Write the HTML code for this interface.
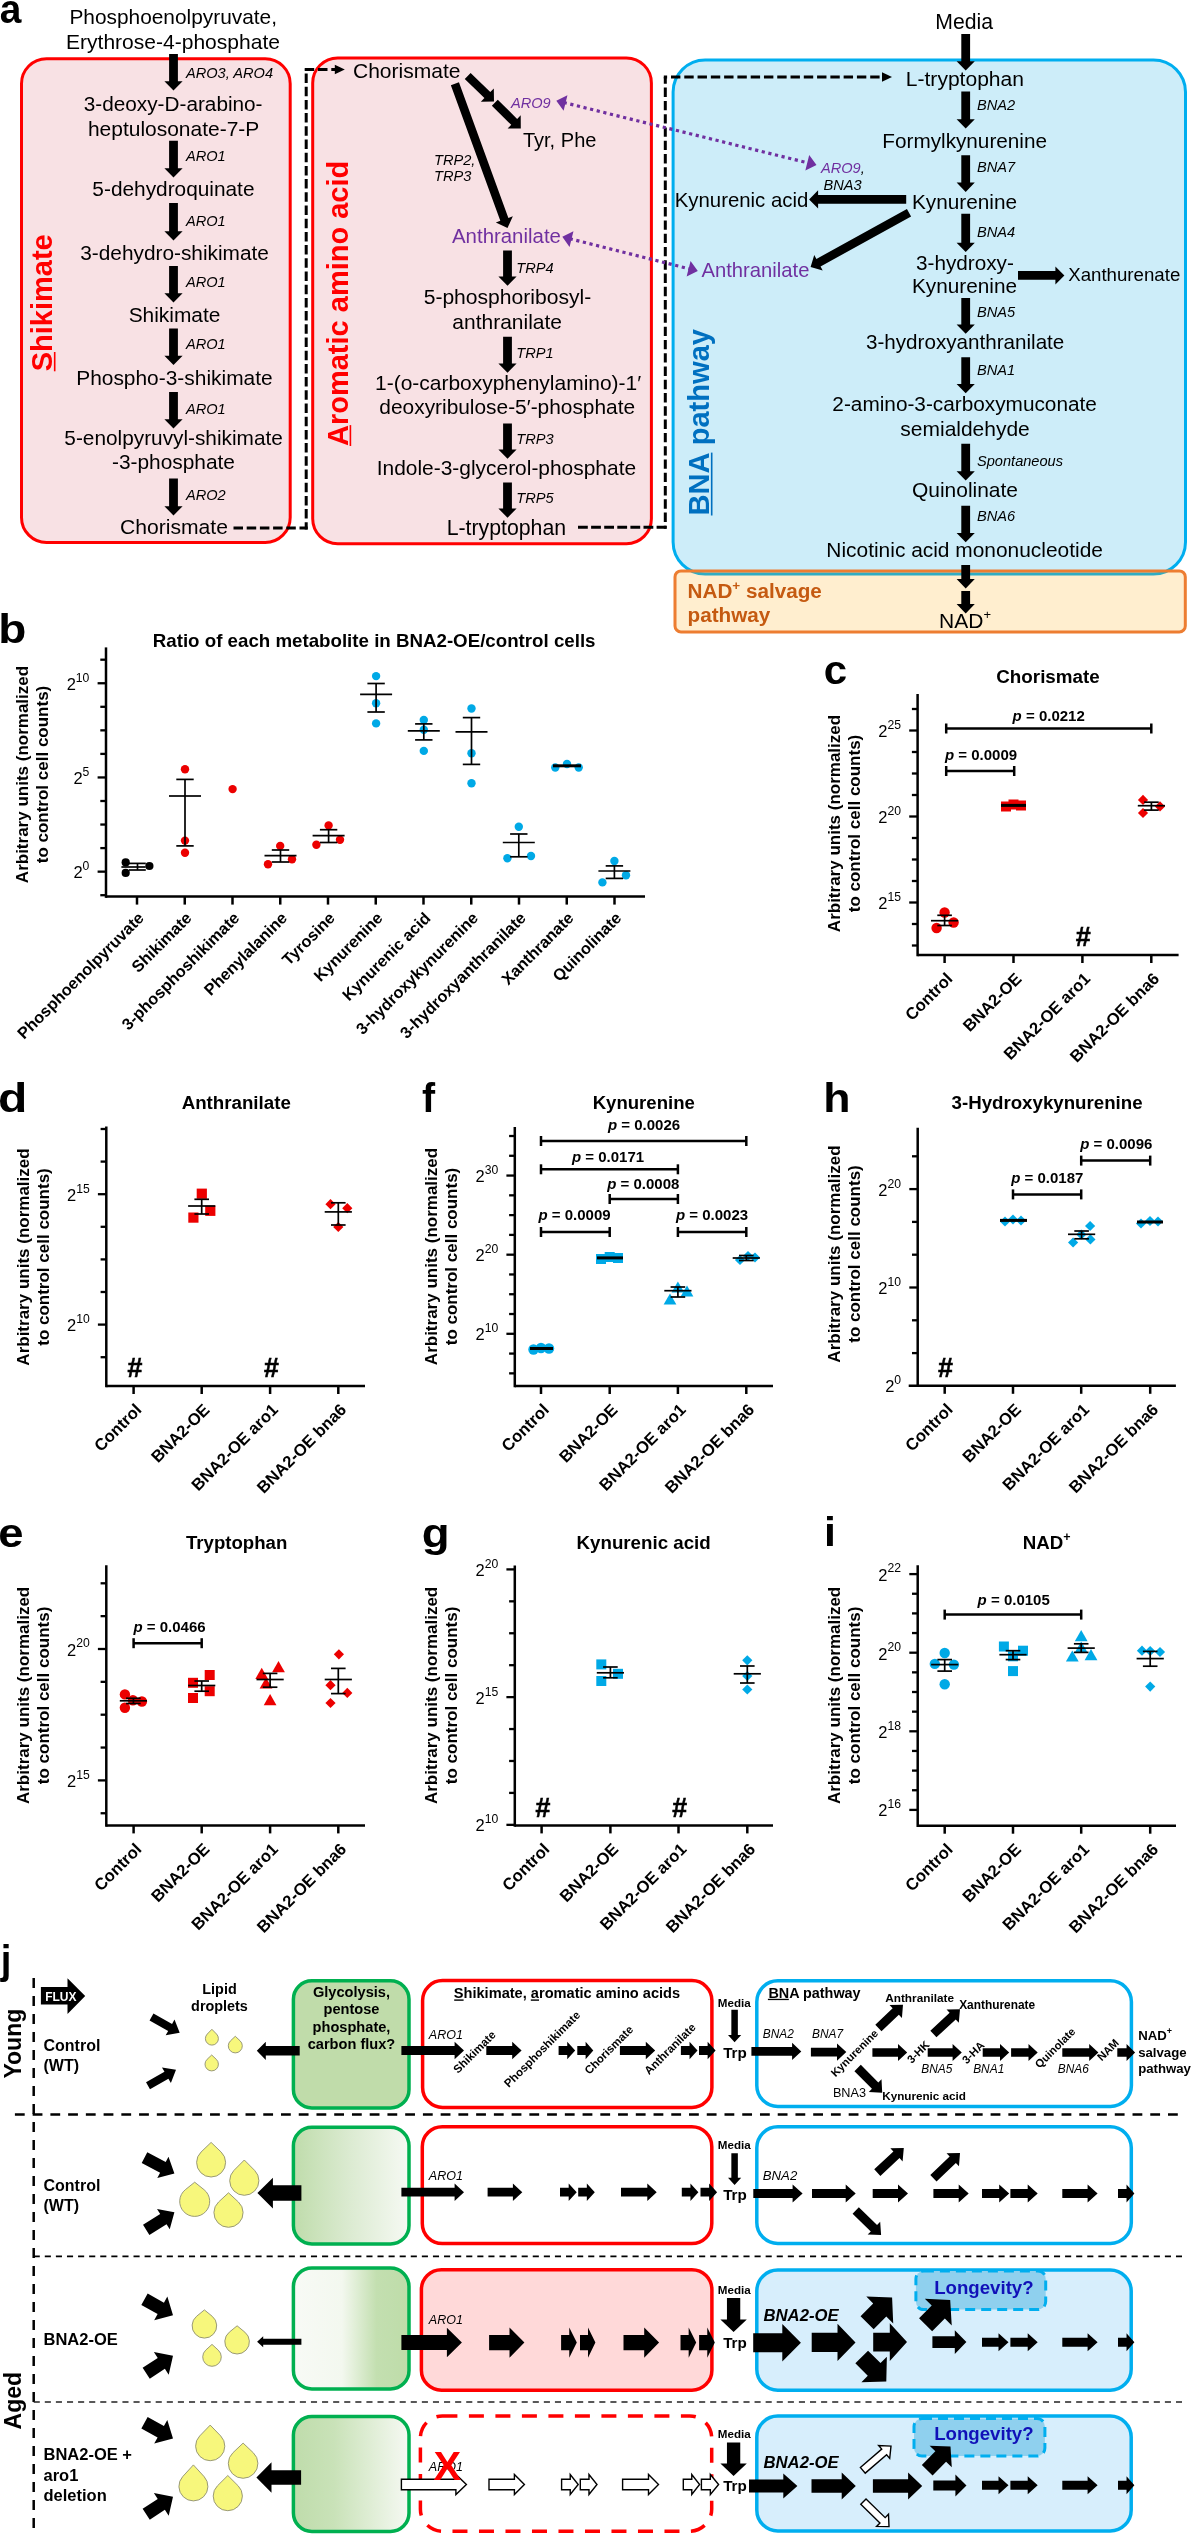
<!DOCTYPE html>
<html><head><meta charset="utf-8"><style>
html,body{margin:0;padding:0;background:#fff;}
svg{display:block;font-family:"Liberation Sans",sans-serif;will-change:transform;}
</style></head><body>
<svg width="1192" height="2534" viewBox="0 0 1192 2534">
<text transform="translate(-0.17,23.30) scale(0.972,1)" font-size="40" font-weight="bold">a</text>
<rect x="21.50" y="58.70" width="268.70" height="483.80" rx="25" ry="25" fill="#f8e1e4" stroke="#ff0000" stroke-width="3" />
<rect x="312.70" y="57.90" width="338.70" height="485.80" rx="25" ry="25" fill="#f8e1e4" stroke="#ff0000" stroke-width="3" />
<rect x="673.10" y="60.00" width="512.40" height="514.00" rx="32" ry="32" fill="#cdedf9" stroke="#00aeef" stroke-width="3" />
<rect x="675.00" y="570.90" width="510.30" height="61.00" rx="6" ry="6" fill="rgba(255,165,0,0.19)" stroke="#ed7d31" stroke-width="3" />
<text x="69.43" y="24.30" font-size="20.87" >Phosphoenolpyruvate,</text>
<text x="66.02" y="49.00" font-size="21.04" >Erythrose-4-phosphate</text>
<text x="83.77" y="111.00" font-size="20.76" >3-deoxy-D-arabino-</text>
<text x="87.93" y="135.60" font-size="20.98" >heptulosonate-7-P</text>
<text x="92.37" y="195.50" font-size="20.84" >5-dehydroquinate</text>
<text x="80.27" y="260.00" font-size="20.82" >3-dehydro-shikimate</text>
<text x="128.65" y="322.30" font-size="20.91" >Shikimate</text>
<text x="76.23" y="385.40" font-size="20.91" >Phospho-3-shikimate</text>
<text x="64.37" y="444.50" font-size="20.8" >5-enolpyruvyl-shikimate</text>
<text x="111.96" y="469.00" font-size="20.88" >-3-phosphate</text>
<text x="119.94" y="534.40" font-size="21.12" >Chorismate</text>
<polygon points="177.90,54.00 177.90,81.20 182.60,81.20 173.50,90.50 164.40,81.20 169.10,81.20 169.10,54.00" fill="#000" stroke="none" stroke-width="0"  stroke-linejoin="miter"/>
<polygon points="177.90,140.70 177.90,168.30 182.60,168.30 173.50,177.60 164.40,168.30 169.10,168.30 169.10,140.70" fill="#000" stroke="none" stroke-width="0"  stroke-linejoin="miter"/>
<polygon points="177.90,203.00 177.90,231.20 182.60,231.20 173.50,240.50 164.40,231.20 169.10,231.20 169.10,203.00" fill="#000" stroke="none" stroke-width="0"  stroke-linejoin="miter"/>
<polygon points="177.90,266.00 177.90,293.20 182.60,293.20 173.50,302.50 164.40,293.20 169.10,293.20 169.10,266.00" fill="#000" stroke="none" stroke-width="0"  stroke-linejoin="miter"/>
<polygon points="177.90,328.50 177.90,355.70 182.60,355.70 173.50,365.00 164.40,355.70 169.10,355.70 169.10,328.50" fill="#000" stroke="none" stroke-width="0"  stroke-linejoin="miter"/>
<polygon points="177.90,392.00 177.90,419.20 182.60,419.20 173.50,428.50 164.40,419.20 169.10,419.20 169.10,392.00" fill="#000" stroke="none" stroke-width="0"  stroke-linejoin="miter"/>
<polygon points="177.90,478.60 177.90,506.20 182.60,506.20 173.50,515.50 164.40,506.20 169.10,506.20 169.10,478.60" fill="#000" stroke="none" stroke-width="0"  stroke-linejoin="miter"/>
<text x="186.00" y="78.00" font-size="14.6" font-style="italic" >ARO3, ARO4</text>
<text x="186.00" y="160.50" font-size="14.6" font-style="italic" >ARO1</text>
<text x="186.00" y="225.50" font-size="14.6" font-style="italic" >ARO1</text>
<text x="186.00" y="286.60" font-size="14.6" font-style="italic" >ARO1</text>
<text x="186.00" y="349.00" font-size="14.6" font-style="italic" >ARO1</text>
<text x="186.00" y="414.00" font-size="14.6" font-style="italic" >ARO1</text>
<text x="186.00" y="500.00" font-size="14.6" font-style="italic" >ARO2</text>
<text transform="translate(52.10,371.30) rotate(-90)" font-size="29" font-weight="bold" fill="#ff0000" >Shikimate</text>
<rect x="53.90" y="352.00" width="1.60" height="19.30" rx="0" ry="0" fill="#ff0000" stroke="none" stroke-width="0" />
<text transform="translate(348.00,446.00) rotate(-90)" font-size="29" font-weight="bold" fill="#ff0000" >Aromatic amino acid</text>
<rect x="349.60" y="425.10" width="1.60" height="20.90" rx="0" ry="0" fill="#ff0000" stroke="none" stroke-width="0" />
<text transform="translate(708.60,515.40) rotate(-90)" font-size="29.1" font-weight="bold" fill="#0070c0" >BNA pathway</text>
<rect x="710.90" y="452.60" width="1.60" height="62.90" rx="0" ry="0" fill="#0070c0" stroke="none" stroke-width="0" />
<text x="352.95" y="77.50" font-size="21.04" >Chorismate</text>
<text x="423.66" y="303.90" font-size="21.09" >5-phosphoribosyl-</text>
<text x="452.36" y="328.50" font-size="20.97" >anthranilate</text>
<text x="375.02" y="390.00" font-size="20.97" >1-(o-carboxyphenylamino)-1′</text>
<text x="379.36" y="413.90" font-size="20.88" >deoxyribulose-5′-phosphate</text>
<text x="376.72" y="474.50" font-size="20.93" >Indole-3-glycerol-phosphate</text>
<text x="446.70" y="535.00" font-size="21.28" >L-tryptophan</text>
<polygon points="511.90,250.40 511.90,276.50 516.60,276.50 507.50,285.80 498.40,276.50 503.10,276.50 503.10,250.40" fill="#000" stroke="none" stroke-width="0"  stroke-linejoin="miter"/>
<polygon points="511.90,336.70 511.90,363.40 516.60,363.40 507.50,372.70 498.40,363.40 503.10,363.40 503.10,336.70" fill="#000" stroke="none" stroke-width="0"  stroke-linejoin="miter"/>
<polygon points="511.90,423.50 511.90,449.50 516.60,449.50 507.50,458.80 498.40,449.50 503.10,449.50 503.10,423.50" fill="#000" stroke="none" stroke-width="0"  stroke-linejoin="miter"/>
<polygon points="511.90,482.40 511.90,508.50 516.60,508.50 507.50,517.80 498.40,508.50 503.10,508.50 503.10,482.40" fill="#000" stroke="none" stroke-width="0"  stroke-linejoin="miter"/>
<text x="516.30" y="272.70" font-size="14.6" font-style="italic" >TRP4</text>
<text x="516.30" y="358.10" font-size="14.6" font-style="italic" >TRP1</text>
<text x="516.30" y="444.20" font-size="14.6" font-style="italic" >TRP3</text>
<text x="516.30" y="503.10" font-size="14.6" font-style="italic" >TRP5</text>
<text x="452.00" y="242.50" font-size="20.42" fill="#7030a0" >Anthranilate</text>
<text x="522.90" y="147.00" font-size="20.06" >Tyr, Phe</text>
<text x="511.00" y="108.40" font-size="14.6" font-style="italic" fill="#7030a0" >ARO9</text>
<text x="434.00" y="164.50" font-size="14.6" font-style="italic" >TRP2,</text>
<text x="434.00" y="181.40" font-size="14.6" font-style="italic" >TRP3</text>
<polygon points="458.94,82.33 508.39,217.88 512.85,216.26 507.50,228.00 495.85,222.46 500.31,220.83 450.86,85.27" fill="#000" stroke="none" stroke-width="0"  stroke-linejoin="miter"/>
<polygon points="470.63,72.99 490.27,92.10 493.82,88.45 494.00,101.60 480.85,101.78 484.41,98.12 464.77,79.01" fill="#000" stroke="none" stroke-width="0"  stroke-linejoin="miter"/>
<polygon points="497.75,99.76 517.13,118.88 520.71,115.25 520.80,128.40 507.65,128.49 511.23,124.86 491.85,105.74" fill="#000" stroke="none" stroke-width="0"  stroke-linejoin="miter"/>
<text x="935.30" y="29.30" font-size="21.21" >Media</text>
<text x="905.82" y="86.00" font-size="21.06" >L-tryptophan</text>
<text x="882.34" y="148.00" font-size="20.72" >Formylkynurenine</text>
<text x="911.94" y="208.50" font-size="20.77" >Kynurenine</text>
<text x="915.97" y="269.60" font-size="20.73" >3-hydroxy-</text>
<text x="911.94" y="293.00" font-size="20.77" >Kynurenine</text>
<text x="865.97" y="348.50" font-size="20.63" >3-hydroxyanthranilate</text>
<text x="832.36" y="411.00" font-size="20.79" >2-amino-3-carboxymuconate</text>
<text x="900.37" y="435.70" font-size="20.98" >semialdehyde</text>
<text x="911.95" y="497.30" font-size="20.97" >Quinolinate</text>
<text x="826.33" y="557.00" font-size="20.92" >Nicotinic acid mononucleotide</text>
<text x="965.00" y="627.70" font-size="21" text-anchor="middle" >NAD<tspan font-size="13" dy="-9">+</tspan></text>
<polygon points="970.10,34.00 970.10,61.20 974.80,61.20 965.70,70.50 956.60,61.20 961.30,61.20 961.30,34.00" fill="#000" stroke="none" stroke-width="0"  stroke-linejoin="miter"/>
<polygon points="970.10,91.60 970.10,119.20 974.80,119.20 965.70,128.50 956.60,119.20 961.30,119.20 961.30,91.60" fill="#000" stroke="none" stroke-width="0"  stroke-linejoin="miter"/>
<polygon points="970.10,155.20 970.10,182.60 974.80,182.60 965.70,191.90 956.60,182.60 961.30,182.60 961.30,155.20" fill="#000" stroke="none" stroke-width="0"  stroke-linejoin="miter"/>
<polygon points="970.10,213.70 970.10,242.70 974.80,242.70 965.70,252.00 956.60,242.70 961.30,242.70 961.30,213.70" fill="#000" stroke="none" stroke-width="0"  stroke-linejoin="miter"/>
<polygon points="970.10,298.00 970.10,324.50 974.80,324.50 965.70,333.80 956.60,324.50 961.30,324.50 961.30,298.00" fill="#000" stroke="none" stroke-width="0"  stroke-linejoin="miter"/>
<polygon points="970.10,357.30 970.10,384.00 974.80,384.00 965.70,393.30 956.60,384.00 961.30,384.00 961.30,357.30" fill="#000" stroke="none" stroke-width="0"  stroke-linejoin="miter"/>
<polygon points="970.10,443.70 970.10,471.20 974.80,471.20 965.70,480.50 956.60,471.20 961.30,471.20 961.30,443.70" fill="#000" stroke="none" stroke-width="0"  stroke-linejoin="miter"/>
<polygon points="970.10,505.80 970.10,533.00 974.80,533.00 965.70,542.30 956.60,533.00 961.30,533.00 961.30,505.80" fill="#000" stroke="none" stroke-width="0"  stroke-linejoin="miter"/>
<polygon points="970.10,565.00 970.10,579.10 974.80,579.10 965.70,588.40 956.60,579.10 961.30,579.10 961.30,565.00" fill="#000" stroke="none" stroke-width="0"  stroke-linejoin="miter"/>
<polygon points="970.10,591.00 970.10,604.10 974.80,604.10 965.70,613.40 956.60,604.10 961.30,604.10 961.30,591.00" fill="#000" stroke="none" stroke-width="0"  stroke-linejoin="miter"/>
<text x="977.00" y="110.00" font-size="14.6" font-style="italic" >BNA2</text>
<text x="977.00" y="172.00" font-size="14.6" font-style="italic" >BNA7</text>
<text x="977.00" y="237.00" font-size="14.6" font-style="italic" >BNA4</text>
<text x="977.00" y="317.30" font-size="14.6" font-style="italic" >BNA5</text>
<text x="977.00" y="375.00" font-size="14.6" font-style="italic" >BNA1</text>
<text x="977.00" y="466.00" font-size="14.6" font-style="italic" >Spontaneous</text>
<text x="977.00" y="521.40" font-size="14.6" font-style="italic" >BNA6</text>
<text x="674.77" y="206.80" font-size="20.37" >Kynurenic acid</text>
<polygon points="906.20,203.70 818.10,203.70 818.10,208.45 809.10,199.40 818.10,190.35 818.10,195.10 906.20,195.10" fill="#000" stroke="none" stroke-width="0"  stroke-linejoin="miter"/>
<text x="821.00" y="173.30" font-size="14.6" font-style="italic" ><tspan fill="#7030a0">ARO9</tspan>,</text>
<text x="823.60" y="190.40" font-size="14.6" font-style="italic" >BNA3</text>
<polygon points="911.08,216.46 820.56,266.51 822.71,270.40 810.60,267.10 814.24,255.09 816.40,258.98 906.92,208.94" fill="#000" stroke="none" stroke-width="0"  stroke-linejoin="miter"/>
<text x="701.50" y="276.70" font-size="20.23" fill="#7030a0" >Anthranilate</text>
<polygon points="1018.00,271.10 1055.40,271.10 1055.40,266.40 1064.40,275.40 1055.40,284.40 1055.40,279.70 1018.00,279.70" fill="#000" stroke="none" stroke-width="0"  stroke-linejoin="miter"/>
<text x="1068.24" y="281.40" font-size="18.67" >Xanthurenate</text>
<text x="687.50" y="597.60" font-size="20.7" font-weight="bold" fill="#c55a11" >NAD<tspan font-size="13.5" dy="-8">+</tspan><tspan dy="8"> salvage</tspan></text>
<text x="687.50" y="622.00" font-size="20.7" font-weight="bold" fill="#c55a11" >pathway</text>
<path d="M233.50 528.00L243.00 528.00M246.70 528.00L256.20 528.00M259.90 528.00L269.40 528.00M273.10 528.00L282.60 528.00M286.30 528.00L295.80 528.00M299.50 528.00L307.70 528.00" stroke="#000" stroke-width="3" fill="none"/>
<path d="M306.20 69.50L306.20 69.80M306.20 73.50L306.20 83.00M306.20 86.70L306.20 96.20M306.20 99.90L306.20 109.40M306.20 113.10L306.20 122.60M306.20 126.30L306.20 135.80M306.20 139.50L306.20 149.00M306.20 152.70L306.20 162.20M306.20 165.90L306.20 175.40M306.20 179.10L306.20 188.60M306.20 192.30L306.20 201.80M306.20 205.50L306.20 215.00M306.20 218.70L306.20 228.20M306.20 231.90L306.20 241.40M306.20 245.10L306.20 254.60M306.20 258.30L306.20 267.80M306.20 271.50L306.20 281.00M306.20 284.70L306.20 294.20M306.20 297.90L306.20 307.40M306.20 311.10L306.20 320.60M306.20 324.30L306.20 333.80M306.20 337.50L306.20 347.00M306.20 350.70L306.20 360.20M306.20 363.90L306.20 373.40M306.20 377.10L306.20 386.60M306.20 390.30L306.20 399.80M306.20 403.50L306.20 413.00M306.20 416.70L306.20 426.20M306.20 429.90L306.20 439.40M306.20 443.10L306.20 452.60M306.20 456.30L306.20 465.80M306.20 469.50L306.20 479.00M306.20 482.70L306.20 492.20M306.20 495.90L306.20 505.40M306.20 509.10L306.20 518.60M306.20 522.30L306.20 529.50" stroke="#000" stroke-width="3" fill="none"/>
<path d="M304.70 69.50L314.20 69.50M318.00 69.50L327.50 69.50M331.30 69.50L336.00 69.50" stroke="#000" stroke-width="3" fill="none"/>
<polygon points="334.80,64.70 344.80,69.50 334.80,74.30" fill="#000" stroke="none" stroke-width="0" />
<path d="M578.00 527.30L587.80 527.30M591.10 527.30L600.90 527.30M604.20 527.30L614.00 527.30M617.30 527.30L627.10 527.30M630.40 527.30L640.20 527.30M643.50 527.30L653.30 527.30M656.60 527.30L666.40 527.30" stroke="#000" stroke-width="3" fill="none"/>
<path d="M665.30 77.00L665.30 83.72M665.30 87.60L665.30 97.00M665.30 100.88L665.30 110.28M665.30 114.16L665.30 123.56M665.30 127.44L665.30 136.84M665.30 140.72L665.30 150.12M665.30 154.00L665.30 163.40M665.30 167.28L665.30 176.68M665.30 180.56L665.30 189.96M665.30 193.84L665.30 203.24M665.30 207.12L665.30 216.52M665.30 220.40L665.30 229.80M665.30 233.68L665.30 243.08M665.30 246.96L665.30 256.36M665.30 260.24L665.30 269.64M665.30 273.52L665.30 282.92M665.30 286.80L665.30 296.20M665.30 300.08L665.30 309.48M665.30 313.36L665.30 322.76M665.30 326.64L665.30 336.04M665.30 339.92L665.30 349.32M665.30 353.20L665.30 362.60M665.30 366.48L665.30 375.88M665.30 379.76L665.30 389.16M665.30 393.04L665.30 402.44M665.30 406.32L665.30 415.72M665.30 419.60L665.30 429.00M665.30 432.88L665.30 442.28M665.30 446.16L665.30 455.56M665.30 459.44L665.30 468.84M665.30 472.72L665.30 482.12M665.30 486.00L665.30 495.40M665.30 499.28L665.30 508.68M665.30 512.56L665.30 521.96M665.30 525.84L665.30 528.80" stroke="#000" stroke-width="3" fill="none"/>
<path d="M663.80 77.00L667.12 77.00M671.00 77.00L680.40 77.00M684.28 77.00L693.68 77.00M697.56 77.00L706.96 77.00M710.84 77.00L720.24 77.00M724.12 77.00L733.52 77.00M737.40 77.00L746.80 77.00M750.68 77.00L760.08 77.00M763.96 77.00L773.36 77.00M777.24 77.00L786.64 77.00M790.52 77.00L799.92 77.00M803.80 77.00L813.20 77.00M817.08 77.00L826.48 77.00M830.36 77.00L839.76 77.00M843.64 77.00L853.04 77.00M856.92 77.00L866.32 77.00M870.20 77.00L879.60 77.00M883.48 77.00L884.00 77.00" stroke="#000" stroke-width="3" fill="none"/>
<polygon points="882.00,72.20 892.00,77.00 882.00,81.80" fill="#000" stroke="none" stroke-width="0" />
<line x1="563.68" y1="102.52" x2="809.12" y2="163.18" stroke="#7030a0" stroke-width="3.2" stroke-dasharray="3.2 3.6"/>
<polygon points="565.51,103.03 565.51,103.03 563.60,110.75 556.30,100.70 567.44,95.21 565.53,102.93 565.53,102.93" fill="#7030a0" stroke="none" stroke-width="0"  stroke-linejoin="miter"/>
<polygon points="807.29,162.67 807.29,162.67 809.20,154.95 816.50,165.00 805.36,170.49 807.27,162.77 807.27,162.77" fill="#7030a0" stroke="none" stroke-width="0"  stroke-linejoin="miter"/>
<line x1="569.67" y1="238.66" x2="690.43" y2="269.14" stroke="#7030a0" stroke-width="3.2" stroke-dasharray="3.2 3.6"/>
<polygon points="571.50,239.17 571.50,239.17 569.55,246.88 562.30,236.80 573.47,231.37 571.52,239.08 571.52,239.08" fill="#7030a0" stroke="none" stroke-width="0"  stroke-linejoin="miter"/>
<polygon points="688.60,268.63 688.60,268.63 690.55,260.92 697.80,271.00 686.63,276.43 688.58,268.72 688.58,268.72" fill="#7030a0" stroke="none" stroke-width="0"  stroke-linejoin="miter"/>
<text transform="translate(-1.82,642.70) scale(1.150,1)" font-size="40" font-weight="bold">b</text>
<text x="152.79" y="646.60" font-size="18.72" font-weight="bold" >Ratio of each metabolite in BNA2-OE/control cells</text>
<line x1="106.00" y1="647.40" x2="106.00" y2="897.85" stroke="#000" stroke-width="2.5" />
<line x1="106.00" y1="896.60" x2="645.00" y2="896.60" stroke="#000" stroke-width="2.5" />
<line x1="100.30" y1="659.70" x2="106.00" y2="659.70" stroke="#000" stroke-width="2.3" />
<line x1="97.60" y1="683.25" x2="106.00" y2="683.25" stroke="#000" stroke-width="2.3" />
<line x1="100.30" y1="706.80" x2="106.00" y2="706.80" stroke="#000" stroke-width="2.3" />
<line x1="100.30" y1="730.35" x2="106.00" y2="730.35" stroke="#000" stroke-width="2.3" />
<line x1="100.30" y1="753.90" x2="106.00" y2="753.90" stroke="#000" stroke-width="2.3" />
<line x1="97.60" y1="777.45" x2="106.00" y2="777.45" stroke="#000" stroke-width="2.3" />
<line x1="100.30" y1="801.00" x2="106.00" y2="801.00" stroke="#000" stroke-width="2.3" />
<line x1="100.30" y1="824.55" x2="106.00" y2="824.55" stroke="#000" stroke-width="2.3" />
<line x1="100.30" y1="848.10" x2="106.00" y2="848.10" stroke="#000" stroke-width="2.3" />
<line x1="97.60" y1="871.65" x2="106.00" y2="871.65" stroke="#000" stroke-width="2.3" />
<line x1="100.30" y1="895.20" x2="106.00" y2="895.20" stroke="#000" stroke-width="2.3" />
<line x1="137.00" y1="896.60" x2="137.00" y2="904.60" stroke="#000" stroke-width="2.5" />
<line x1="184.75" y1="896.60" x2="184.75" y2="904.60" stroke="#000" stroke-width="2.5" />
<line x1="232.50" y1="896.60" x2="232.50" y2="904.60" stroke="#000" stroke-width="2.5" />
<line x1="280.25" y1="896.60" x2="280.25" y2="904.60" stroke="#000" stroke-width="2.5" />
<line x1="328.00" y1="896.60" x2="328.00" y2="904.60" stroke="#000" stroke-width="2.5" />
<line x1="375.75" y1="896.60" x2="375.75" y2="904.60" stroke="#000" stroke-width="2.5" />
<line x1="423.50" y1="896.60" x2="423.50" y2="904.60" stroke="#000" stroke-width="2.5" />
<line x1="471.25" y1="896.60" x2="471.25" y2="904.60" stroke="#000" stroke-width="2.5" />
<line x1="519.00" y1="896.60" x2="519.00" y2="904.60" stroke="#000" stroke-width="2.5" />
<line x1="566.75" y1="896.60" x2="566.75" y2="904.60" stroke="#000" stroke-width="2.5" />
<line x1="614.50" y1="896.60" x2="614.50" y2="904.60" stroke="#000" stroke-width="2.5" />
<text x="89.40" y="689.75" font-size="16.5" text-anchor="end" >2<tspan font-size="12.2" dy="-8.2">10</tspan></text>
<text x="89.40" y="783.95" font-size="16.5" text-anchor="end" >2<tspan font-size="12.2" dy="-8.2">5</tspan></text>
<text x="89.40" y="878.15" font-size="16.5" text-anchor="end" >2<tspan font-size="12.2" dy="-8.2">0</tspan></text>
<text transform="translate(28.20,774.50) rotate(-90)" font-size="17" font-weight="bold" text-anchor="middle" >Arbitrary units (normalized</text>
<text transform="translate(48.30,774.50) rotate(-90)" font-size="17" font-weight="bold" text-anchor="middle" >to control cell counts)</text>
<text transform="translate(145.00,919.10) rotate(-45)" font-size="16.3" font-weight="bold" text-anchor="end" >Phosphoenolpyruvate</text>
<text transform="translate(192.75,919.10) rotate(-45)" font-size="16.3" font-weight="bold" text-anchor="end" >Shikimate</text>
<text transform="translate(240.50,919.10) rotate(-45)" font-size="16.3" font-weight="bold" text-anchor="end" >3-phosphoshikimate</text>
<text transform="translate(288.25,919.10) rotate(-45)" font-size="16.3" font-weight="bold" text-anchor="end" >Phenylalanine</text>
<text transform="translate(336.00,919.10) rotate(-45)" font-size="16.3" font-weight="bold" text-anchor="end" >Tyrosine</text>
<text transform="translate(383.75,919.10) rotate(-45)" font-size="16.3" font-weight="bold" text-anchor="end" >Kynurenine</text>
<text transform="translate(431.50,919.10) rotate(-45)" font-size="16.3" font-weight="bold" text-anchor="end" >Kynurenic acid</text>
<text transform="translate(479.25,919.10) rotate(-45)" font-size="16.3" font-weight="bold" text-anchor="end" >3-hydroxykynurenine</text>
<text transform="translate(527.00,919.10) rotate(-45)" font-size="16.3" font-weight="bold" text-anchor="end" >3-hydroxyanthranilate</text>
<text transform="translate(574.75,919.10) rotate(-45)" font-size="16.3" font-weight="bold" text-anchor="end" >Xanthranate</text>
<text transform="translate(622.50,919.10) rotate(-45)" font-size="16.3" font-weight="bold" text-anchor="end" >Quinolinate</text>
<circle cx="125.70" cy="862.40" r="4.1" fill="#000"/>
<circle cx="125.70" cy="872.90" r="4.1" fill="#000"/>
<circle cx="149.40" cy="866.00" r="4.1" fill="#000"/>
<line x1="121.40" y1="867.00" x2="145.60" y2="867.00" stroke="#000" stroke-width="1.7" />
<line x1="137.50" y1="863.40" x2="137.50" y2="870.00" stroke="#000" stroke-width="1.7" />
<line x1="129.00" y1="863.40" x2="145.80" y2="863.40" stroke="#000" stroke-width="1.7" />
<line x1="129.00" y1="870.00" x2="145.80" y2="870.00" stroke="#000" stroke-width="1.7" />
<circle cx="185.00" cy="769.20" r="4.2" fill="#ec0000"/>
<circle cx="185.00" cy="840.60" r="4.2" fill="#ec0000"/>
<circle cx="185.00" cy="852.80" r="4.2" fill="#ec0000"/>
<line x1="169.00" y1="796.00" x2="201.00" y2="796.00" stroke="#000" stroke-width="1.7" />
<line x1="185.00" y1="779.40" x2="185.00" y2="845.90" stroke="#000" stroke-width="1.7" />
<line x1="176.30" y1="779.40" x2="193.70" y2="779.40" stroke="#000" stroke-width="1.7" />
<line x1="176.30" y1="845.90" x2="193.70" y2="845.90" stroke="#000" stroke-width="1.7" />
<circle cx="232.60" cy="789.10" r="4.2" fill="#ec0000"/>
<circle cx="268.00" cy="864.20" r="4.2" fill="#ec0000"/>
<circle cx="280.20" cy="845.90" r="4.2" fill="#ec0000"/>
<circle cx="292.00" cy="859.20" r="4.2" fill="#ec0000"/>
<line x1="264.50" y1="855.60" x2="296.50" y2="855.60" stroke="#000" stroke-width="1.7" />
<line x1="280.50" y1="850.00" x2="280.50" y2="862.00" stroke="#000" stroke-width="1.7" />
<line x1="271.80" y1="850.00" x2="289.20" y2="850.00" stroke="#000" stroke-width="1.7" />
<line x1="271.80" y1="862.00" x2="289.20" y2="862.00" stroke="#000" stroke-width="1.7" />
<circle cx="316.40" cy="844.80" r="4.2" fill="#ec0000"/>
<circle cx="328.60" cy="825.40" r="4.2" fill="#ec0000"/>
<circle cx="340.00" cy="839.70" r="4.2" fill="#ec0000"/>
<line x1="312.60" y1="835.70" x2="344.60" y2="835.70" stroke="#000" stroke-width="1.7" />
<line x1="328.60" y1="829.70" x2="328.60" y2="842.50" stroke="#000" stroke-width="1.7" />
<line x1="319.90" y1="829.70" x2="337.30" y2="829.70" stroke="#000" stroke-width="1.7" />
<line x1="319.90" y1="842.50" x2="337.30" y2="842.50" stroke="#000" stroke-width="1.7" />
<circle cx="376.10" cy="676.10" r="4.2" fill="#00a9e6"/>
<circle cx="376.10" cy="703.30" r="4.2" fill="#00a9e6"/>
<circle cx="376.10" cy="723.40" r="4.2" fill="#00a9e6"/>
<line x1="360.10" y1="694.40" x2="392.10" y2="694.40" stroke="#000" stroke-width="1.7" />
<line x1="376.10" y1="683.50" x2="376.10" y2="712.00" stroke="#000" stroke-width="1.7" />
<line x1="367.40" y1="683.50" x2="384.80" y2="683.50" stroke="#000" stroke-width="1.7" />
<line x1="367.40" y1="712.00" x2="384.80" y2="712.00" stroke="#000" stroke-width="1.7" />
<circle cx="423.80" cy="720.00" r="4.2" fill="#00a9e6"/>
<circle cx="423.80" cy="729.80" r="4.2" fill="#00a9e6"/>
<circle cx="423.80" cy="750.90" r="4.2" fill="#00a9e6"/>
<line x1="407.80" y1="730.80" x2="439.80" y2="730.80" stroke="#000" stroke-width="1.7" />
<line x1="423.80" y1="723.90" x2="423.80" y2="739.90" stroke="#000" stroke-width="1.7" />
<line x1="415.10" y1="723.90" x2="432.50" y2="723.90" stroke="#000" stroke-width="1.7" />
<line x1="415.10" y1="739.90" x2="432.50" y2="739.90" stroke="#000" stroke-width="1.7" />
<circle cx="471.50" cy="708.50" r="4.2" fill="#00a9e6"/>
<circle cx="471.50" cy="753.20" r="4.2" fill="#00a9e6"/>
<circle cx="471.50" cy="783.20" r="4.2" fill="#00a9e6"/>
<line x1="455.50" y1="731.80" x2="487.50" y2="731.80" stroke="#000" stroke-width="1.7" />
<line x1="471.50" y1="717.60" x2="471.50" y2="764.40" stroke="#000" stroke-width="1.7" />
<line x1="462.80" y1="717.60" x2="480.20" y2="717.60" stroke="#000" stroke-width="1.7" />
<line x1="462.80" y1="764.40" x2="480.20" y2="764.40" stroke="#000" stroke-width="1.7" />
<circle cx="518.80" cy="826.80" r="4.2" fill="#00a9e6"/>
<circle cx="507.40" cy="858.20" r="4.2" fill="#00a9e6"/>
<circle cx="531.00" cy="856.00" r="4.2" fill="#00a9e6"/>
<line x1="502.80" y1="842.50" x2="534.80" y2="842.50" stroke="#000" stroke-width="1.7" />
<line x1="518.80" y1="834.00" x2="518.80" y2="856.80" stroke="#000" stroke-width="1.7" />
<line x1="510.10" y1="834.00" x2="527.50" y2="834.00" stroke="#000" stroke-width="1.7" />
<line x1="510.10" y1="856.80" x2="527.50" y2="856.80" stroke="#000" stroke-width="1.7" />
<circle cx="555.30" cy="767.50" r="4.2" fill="#00a9e6"/>
<circle cx="567.00" cy="764.00" r="4.2" fill="#00a9e6"/>
<circle cx="578.70" cy="767.50" r="4.2" fill="#00a9e6"/>
<line x1="553.00" y1="765.80" x2="581.00" y2="765.80" stroke="#000" stroke-width="3" />
<circle cx="614.40" cy="861.00" r="4.2" fill="#00a9e6"/>
<circle cx="602.40" cy="882.40" r="4.2" fill="#00a9e6"/>
<circle cx="626.00" cy="875.30" r="4.2" fill="#00a9e6"/>
<line x1="598.40" y1="871.00" x2="630.40" y2="871.00" stroke="#000" stroke-width="1.7" />
<line x1="614.40" y1="865.90" x2="614.40" y2="878.40" stroke="#000" stroke-width="1.7" />
<line x1="605.70" y1="865.90" x2="623.10" y2="865.90" stroke="#000" stroke-width="1.7" />
<line x1="605.70" y1="878.40" x2="623.10" y2="878.40" stroke="#000" stroke-width="1.7" />
<text transform="translate(823.72,683.70) scale(1.051,1)" font-size="40" font-weight="bold">c</text>
<text x="996.25" y="682.90" font-size="18.82" font-weight="bold" >Chorismate</text>
<line x1="917.60" y1="694.10" x2="917.60" y2="956.25" stroke="#000" stroke-width="2.5" />
<line x1="917.60" y1="955.00" x2="1178.60" y2="955.00" stroke="#000" stroke-width="2.5" />
<line x1="911.90" y1="709.00" x2="917.60" y2="709.00" stroke="#000" stroke-width="2.3" />
<line x1="909.20" y1="730.50" x2="917.60" y2="730.50" stroke="#000" stroke-width="2.3" />
<line x1="911.90" y1="752.00" x2="917.60" y2="752.00" stroke="#000" stroke-width="2.3" />
<line x1="911.90" y1="773.50" x2="917.60" y2="773.50" stroke="#000" stroke-width="2.3" />
<line x1="911.90" y1="795.00" x2="917.60" y2="795.00" stroke="#000" stroke-width="2.3" />
<line x1="909.20" y1="816.50" x2="917.60" y2="816.50" stroke="#000" stroke-width="2.3" />
<line x1="911.90" y1="838.00" x2="917.60" y2="838.00" stroke="#000" stroke-width="2.3" />
<line x1="911.90" y1="859.50" x2="917.60" y2="859.50" stroke="#000" stroke-width="2.3" />
<line x1="911.90" y1="881.00" x2="917.60" y2="881.00" stroke="#000" stroke-width="2.3" />
<line x1="909.20" y1="902.50" x2="917.60" y2="902.50" stroke="#000" stroke-width="2.3" />
<line x1="911.90" y1="924.00" x2="917.60" y2="924.00" stroke="#000" stroke-width="2.3" />
<line x1="911.90" y1="945.50" x2="917.60" y2="945.50" stroke="#000" stroke-width="2.3" />
<line x1="944.60" y1="955.00" x2="944.60" y2="963.00" stroke="#000" stroke-width="2.5" />
<line x1="1013.50" y1="955.00" x2="1013.50" y2="963.00" stroke="#000" stroke-width="2.5" />
<line x1="1082.40" y1="955.00" x2="1082.40" y2="963.00" stroke="#000" stroke-width="2.5" />
<line x1="1151.30" y1="955.00" x2="1151.30" y2="963.00" stroke="#000" stroke-width="2.5" />
<text x="901.00" y="737.00" font-size="16.5" text-anchor="end" >2<tspan font-size="12.2" dy="-8.2">25</tspan></text>
<text x="901.00" y="823.20" font-size="16.5" text-anchor="end" >2<tspan font-size="12.2" dy="-8.2">20</tspan></text>
<text x="901.00" y="909.30" font-size="16.5" text-anchor="end" >2<tspan font-size="12.2" dy="-8.2">15</tspan></text>
<text transform="translate(839.60,823.50) rotate(-90)" font-size="17" font-weight="bold" text-anchor="middle" >Arbitrary units (normalized</text>
<text transform="translate(859.60,823.50) rotate(-90)" font-size="17" font-weight="bold" text-anchor="middle" >to control cell counts)</text>
<text transform="translate(953.60,979.80) rotate(-45)" font-size="16.6" font-weight="bold" text-anchor="end" >Control</text>
<text transform="translate(1022.50,979.80) rotate(-45)" font-size="16.6" font-weight="bold" text-anchor="end" >BNA2-OE</text>
<text transform="translate(1091.40,979.80) rotate(-45)" font-size="16.6" font-weight="bold" text-anchor="end" >BNA2-OE aro1</text>
<text transform="translate(1160.30,979.80) rotate(-45)" font-size="16.6" font-weight="bold" text-anchor="end" >BNA2-OE bna6</text>
<line x1="946.20" y1="728.50" x2="1151.30" y2="728.50" stroke="#000" stroke-width="2.5" />
<line x1="946.20" y1="723.50" x2="946.20" y2="733.50" stroke="#000" stroke-width="2.5" />
<line x1="1151.30" y1="723.50" x2="1151.30" y2="733.50" stroke="#000" stroke-width="2.5" />
<text x="1048.70" y="720.50" font-size="15" font-weight="bold" text-anchor="middle" ><tspan font-style="italic">p</tspan> = 0.0212</text>
<line x1="946.20" y1="771.00" x2="1014.20" y2="771.00" stroke="#000" stroke-width="2.5" />
<line x1="946.20" y1="766.00" x2="946.20" y2="776.00" stroke="#000" stroke-width="2.5" />
<line x1="1014.20" y1="766.00" x2="1014.20" y2="776.00" stroke="#000" stroke-width="2.5" />
<text x="981.00" y="760.00" font-size="15" font-weight="bold" text-anchor="middle" ><tspan font-style="italic">p</tspan> = 0.0009</text>
<circle cx="944.60" cy="912.50" r="5.2" fill="#ec0000"/>
<circle cx="936.60" cy="928.00" r="5.2" fill="#ec0000"/>
<circle cx="953.60" cy="922.50" r="5.2" fill="#ec0000"/>
<line x1="931.00" y1="920.70" x2="958.20" y2="920.70" stroke="#000" stroke-width="1.7" />
<line x1="944.60" y1="915.30" x2="944.60" y2="925.50" stroke="#000" stroke-width="1.7" />
<line x1="937.30" y1="915.30" x2="951.90" y2="915.30" stroke="#000" stroke-width="1.7" />
<line x1="937.30" y1="925.50" x2="951.90" y2="925.50" stroke="#000" stroke-width="1.7" />
<rect x="1001.00" y="801.50" width="10.00" height="10.00" rx="0" ry="0" fill="#ec0000" stroke="none" stroke-width="0" />
<rect x="1008.50" y="799.50" width="10.00" height="10.00" rx="0" ry="0" fill="#ec0000" stroke="none" stroke-width="0" />
<rect x="1016.00" y="800.50" width="10.00" height="10.00" rx="0" ry="0" fill="#ec0000" stroke="none" stroke-width="0" />
<line x1="1001.00" y1="805.40" x2="1026.00" y2="805.40" stroke="#000" stroke-width="3" />
<text x="1083.20" y="946.40" font-size="27" font-weight="bold" text-anchor="middle" stroke="#000" stroke-width="0.5">#</text>
<polygon points="1143.00,794.80 1148.10,799.90 1143.00,805.00 1137.90,799.90" fill="#ec0000" stroke="none" stroke-width="0" />
<polygon points="1143.00,807.90 1148.10,813.00 1143.00,818.10 1137.90,813.00" fill="#ec0000" stroke="none" stroke-width="0" />
<polygon points="1160.00,801.30 1165.10,806.40 1160.00,811.50 1154.90,806.40" fill="#ec0000" stroke="none" stroke-width="0" />
<line x1="1137.80" y1="805.70" x2="1165.00" y2="805.70" stroke="#000" stroke-width="1.7" />
<line x1="1151.40" y1="802.20" x2="1151.40" y2="810.10" stroke="#000" stroke-width="1.7" />
<line x1="1144.10" y1="802.20" x2="1158.70" y2="802.20" stroke="#000" stroke-width="1.7" />
<line x1="1144.10" y1="810.10" x2="1158.70" y2="810.10" stroke="#000" stroke-width="1.7" />
<text transform="translate(-1.92,1112.00) scale(1.200,1)" font-size="40" font-weight="bold">d</text>
<text x="181.64" y="1108.50" font-size="18.73" font-weight="bold" >Anthranilate</text>
<line x1="106.30" y1="1126.50" x2="106.30" y2="1387.25" stroke="#000" stroke-width="2.5" />
<line x1="106.30" y1="1386.00" x2="365.00" y2="1386.00" stroke="#000" stroke-width="2.5" />
<line x1="100.60" y1="1129.00" x2="106.30" y2="1129.00" stroke="#000" stroke-width="2.3" />
<line x1="100.60" y1="1161.60" x2="106.30" y2="1161.60" stroke="#000" stroke-width="2.3" />
<line x1="97.90" y1="1194.20" x2="106.30" y2="1194.20" stroke="#000" stroke-width="2.3" />
<line x1="100.60" y1="1226.80" x2="106.30" y2="1226.80" stroke="#000" stroke-width="2.3" />
<line x1="100.60" y1="1259.40" x2="106.30" y2="1259.40" stroke="#000" stroke-width="2.3" />
<line x1="100.60" y1="1292.00" x2="106.30" y2="1292.00" stroke="#000" stroke-width="2.3" />
<line x1="97.90" y1="1324.60" x2="106.30" y2="1324.60" stroke="#000" stroke-width="2.3" />
<line x1="100.60" y1="1357.20" x2="106.30" y2="1357.20" stroke="#000" stroke-width="2.3" />
<line x1="133.60" y1="1386.00" x2="133.60" y2="1394.00" stroke="#000" stroke-width="2.5" />
<line x1="201.70" y1="1386.00" x2="201.70" y2="1394.00" stroke="#000" stroke-width="2.5" />
<line x1="270.10" y1="1386.00" x2="270.10" y2="1394.00" stroke="#000" stroke-width="2.5" />
<line x1="338.30" y1="1386.00" x2="338.30" y2="1394.00" stroke="#000" stroke-width="2.5" />
<text x="89.70" y="1200.70" font-size="16.5" text-anchor="end" >2<tspan font-size="12.2" dy="-8.2">15</tspan></text>
<text x="89.70" y="1331.10" font-size="16.5" text-anchor="end" >2<tspan font-size="12.2" dy="-8.2">10</tspan></text>
<text transform="translate(28.70,1257.00) rotate(-90)" font-size="17" font-weight="bold" text-anchor="middle" >Arbitrary units (normalized</text>
<text transform="translate(48.70,1257.00) rotate(-90)" font-size="17" font-weight="bold" text-anchor="middle" >to control cell counts)</text>
<text transform="translate(142.60,1410.80) rotate(-45)" font-size="16.6" font-weight="bold" text-anchor="end" >Control</text>
<text transform="translate(210.70,1410.80) rotate(-45)" font-size="16.6" font-weight="bold" text-anchor="end" >BNA2-OE</text>
<text transform="translate(279.10,1410.80) rotate(-45)" font-size="16.6" font-weight="bold" text-anchor="end" >BNA2-OE aro1</text>
<text transform="translate(347.30,1410.80) rotate(-45)" font-size="16.6" font-weight="bold" text-anchor="end" >BNA2-OE bna6</text>
<text x="134.40" y="1377.00" font-size="27" font-weight="bold" font-style="italic" text-anchor="middle" stroke="#000" stroke-width="0.5">#</text>
<text x="270.90" y="1377.00" font-size="27" font-weight="bold" font-style="italic" text-anchor="middle" stroke="#000" stroke-width="0.5">#</text>
<rect x="196.70" y="1188.60" width="10.20" height="10.20" rx="0" ry="0" fill="#ec0000" stroke="none" stroke-width="0" />
<rect x="205.20" y="1205.70" width="10.20" height="10.20" rx="0" ry="0" fill="#ec0000" stroke="none" stroke-width="0" />
<rect x="188.30" y="1212.50" width="10.20" height="10.20" rx="0" ry="0" fill="#ec0000" stroke="none" stroke-width="0" />
<line x1="188.10" y1="1206.00" x2="215.30" y2="1206.00" stroke="#000" stroke-width="1.7" />
<line x1="201.70" y1="1199.30" x2="201.70" y2="1214.00" stroke="#000" stroke-width="1.7" />
<line x1="194.40" y1="1199.30" x2="209.00" y2="1199.30" stroke="#000" stroke-width="1.7" />
<line x1="194.40" y1="1214.00" x2="209.00" y2="1214.00" stroke="#000" stroke-width="1.7" />
<polygon points="330.50,1199.10 335.60,1204.20 330.50,1209.30 325.40,1204.20" fill="#ec0000" stroke="none" stroke-width="0" />
<polygon points="347.30,1203.10 352.40,1208.20 347.30,1213.30 342.20,1208.20" fill="#ec0000" stroke="none" stroke-width="0" />
<polygon points="338.30,1221.90 343.40,1227.00 338.30,1232.10 333.20,1227.00" fill="#ec0000" stroke="none" stroke-width="0" />
<line x1="324.70" y1="1211.90" x2="351.90" y2="1211.90" stroke="#000" stroke-width="1.7" />
<line x1="338.30" y1="1202.80" x2="338.30" y2="1225.00" stroke="#000" stroke-width="1.7" />
<line x1="331.00" y1="1202.80" x2="345.60" y2="1202.80" stroke="#000" stroke-width="1.7" />
<line x1="331.00" y1="1225.00" x2="345.60" y2="1225.00" stroke="#000" stroke-width="1.7" />
<text transform="translate(422.01,1112.00) scale(0.984,1)" font-size="40" font-weight="bold">f</text>
<text x="592.70" y="1108.50" font-size="18.57" font-weight="bold" >Kynurenine</text>
<line x1="514.80" y1="1127.00" x2="514.80" y2="1387.25" stroke="#000" stroke-width="2.5" />
<line x1="514.80" y1="1386.00" x2="773.00" y2="1386.00" stroke="#000" stroke-width="2.5" />
<line x1="509.10" y1="1136.00" x2="514.80" y2="1136.00" stroke="#000" stroke-width="2.3" />
<line x1="509.10" y1="1155.78" x2="514.80" y2="1155.78" stroke="#000" stroke-width="2.3" />
<line x1="506.40" y1="1175.56" x2="514.80" y2="1175.56" stroke="#000" stroke-width="2.3" />
<line x1="509.10" y1="1195.34" x2="514.80" y2="1195.34" stroke="#000" stroke-width="2.3" />
<line x1="509.10" y1="1215.12" x2="514.80" y2="1215.12" stroke="#000" stroke-width="2.3" />
<line x1="509.10" y1="1234.90" x2="514.80" y2="1234.90" stroke="#000" stroke-width="2.3" />
<line x1="506.40" y1="1254.68" x2="514.80" y2="1254.68" stroke="#000" stroke-width="2.3" />
<line x1="509.10" y1="1274.46" x2="514.80" y2="1274.46" stroke="#000" stroke-width="2.3" />
<line x1="509.10" y1="1294.24" x2="514.80" y2="1294.24" stroke="#000" stroke-width="2.3" />
<line x1="509.10" y1="1314.02" x2="514.80" y2="1314.02" stroke="#000" stroke-width="2.3" />
<line x1="506.40" y1="1333.80" x2="514.80" y2="1333.80" stroke="#000" stroke-width="2.3" />
<line x1="509.10" y1="1353.58" x2="514.80" y2="1353.58" stroke="#000" stroke-width="2.3" />
<line x1="509.10" y1="1373.36" x2="514.80" y2="1373.36" stroke="#000" stroke-width="2.3" />
<line x1="541.00" y1="1386.00" x2="541.00" y2="1394.00" stroke="#000" stroke-width="2.5" />
<line x1="609.70" y1="1386.00" x2="609.70" y2="1394.00" stroke="#000" stroke-width="2.5" />
<line x1="677.90" y1="1386.00" x2="677.90" y2="1394.00" stroke="#000" stroke-width="2.5" />
<line x1="746.30" y1="1386.00" x2="746.30" y2="1394.00" stroke="#000" stroke-width="2.5" />
<text x="498.20" y="1182.10" font-size="16.5" text-anchor="end" >2<tspan font-size="12.2" dy="-8.2">30</tspan></text>
<text x="498.20" y="1261.00" font-size="16.5" text-anchor="end" >2<tspan font-size="12.2" dy="-8.2">20</tspan></text>
<text x="498.20" y="1340.20" font-size="16.5" text-anchor="end" >2<tspan font-size="12.2" dy="-8.2">10</tspan></text>
<text transform="translate(436.80,1256.50) rotate(-90)" font-size="17" font-weight="bold" text-anchor="middle" >Arbitrary units (normalized</text>
<text transform="translate(456.80,1256.50) rotate(-90)" font-size="17" font-weight="bold" text-anchor="middle" >to control cell counts)</text>
<text transform="translate(550.00,1410.80) rotate(-45)" font-size="16.6" font-weight="bold" text-anchor="end" >Control</text>
<text transform="translate(618.70,1410.80) rotate(-45)" font-size="16.6" font-weight="bold" text-anchor="end" >BNA2-OE</text>
<text transform="translate(686.90,1410.80) rotate(-45)" font-size="16.6" font-weight="bold" text-anchor="end" >BNA2-OE aro1</text>
<text transform="translate(755.30,1410.80) rotate(-45)" font-size="16.6" font-weight="bold" text-anchor="end" >BNA2-OE bna6</text>
<line x1="541.00" y1="1141.00" x2="746.30" y2="1141.00" stroke="#000" stroke-width="2.5" />
<line x1="541.00" y1="1136.00" x2="541.00" y2="1146.00" stroke="#000" stroke-width="2.5" />
<line x1="746.30" y1="1136.00" x2="746.30" y2="1146.00" stroke="#000" stroke-width="2.5" />
<text x="644.00" y="1130.30" font-size="15" font-weight="bold" text-anchor="middle" ><tspan font-style="italic">p</tspan> = 0.0026</text>
<line x1="541.00" y1="1169.30" x2="677.90" y2="1169.30" stroke="#000" stroke-width="2.5" />
<line x1="541.00" y1="1164.30" x2="541.00" y2="1174.30" stroke="#000" stroke-width="2.5" />
<line x1="677.90" y1="1164.30" x2="677.90" y2="1174.30" stroke="#000" stroke-width="2.5" />
<text x="608.00" y="1161.50" font-size="15" font-weight="bold" text-anchor="middle" ><tspan font-style="italic">p</tspan> = 0.0171</text>
<line x1="609.70" y1="1199.00" x2="677.90" y2="1199.00" stroke="#000" stroke-width="2.5" />
<line x1="609.70" y1="1194.00" x2="609.70" y2="1204.00" stroke="#000" stroke-width="2.5" />
<line x1="677.90" y1="1194.00" x2="677.90" y2="1204.00" stroke="#000" stroke-width="2.5" />
<text x="643.30" y="1189.40" font-size="15" font-weight="bold" text-anchor="middle" ><tspan font-style="italic">p</tspan> = 0.0008</text>
<line x1="541.00" y1="1232.00" x2="609.70" y2="1232.00" stroke="#000" stroke-width="2.5" />
<line x1="541.00" y1="1227.00" x2="541.00" y2="1237.00" stroke="#000" stroke-width="2.5" />
<line x1="609.70" y1="1227.00" x2="609.70" y2="1237.00" stroke="#000" stroke-width="2.5" />
<text x="574.50" y="1220.30" font-size="15" font-weight="bold" text-anchor="middle" ><tspan font-style="italic">p</tspan> = 0.0009</text>
<line x1="677.90" y1="1232.00" x2="746.30" y2="1232.00" stroke="#000" stroke-width="2.5" />
<line x1="677.90" y1="1227.00" x2="677.90" y2="1237.00" stroke="#000" stroke-width="2.5" />
<line x1="746.30" y1="1227.00" x2="746.30" y2="1237.00" stroke="#000" stroke-width="2.5" />
<text x="712.00" y="1220.30" font-size="15" font-weight="bold" text-anchor="middle" ><tspan font-style="italic">p</tspan> = 0.0023</text>
<circle cx="533.50" cy="1349.50" r="5.2" fill="#00a9e6"/>
<circle cx="541.00" cy="1348.00" r="5.2" fill="#00a9e6"/>
<circle cx="549.00" cy="1348.50" r="5.2" fill="#00a9e6"/>
<line x1="530.00" y1="1348.50" x2="553.00" y2="1348.50" stroke="#000" stroke-width="3" />
<rect x="596.00" y="1254.00" width="10.00" height="10.00" rx="0" ry="0" fill="#00a9e6" stroke="none" stroke-width="0" />
<rect x="604.70" y="1252.00" width="10.00" height="10.00" rx="0" ry="0" fill="#00a9e6" stroke="none" stroke-width="0" />
<rect x="613.00" y="1253.00" width="10.00" height="10.00" rx="0" ry="0" fill="#00a9e6" stroke="none" stroke-width="0" />
<line x1="597.00" y1="1257.90" x2="623.00" y2="1257.90" stroke="#000" stroke-width="3" />
<polygon points="670.00,1293.40 676.38,1304.62 663.62,1304.62" fill="#00a9e6" stroke="none" stroke-width="0" />
<polygon points="677.90,1281.40 684.28,1292.62 671.52,1292.62" fill="#00a9e6" stroke="none" stroke-width="0" />
<polygon points="687.00,1285.40 693.38,1296.62 680.62,1296.62" fill="#00a9e6" stroke="none" stroke-width="0" />
<line x1="664.30" y1="1290.70" x2="691.50" y2="1290.70" stroke="#000" stroke-width="1.7" />
<line x1="677.90" y1="1287.00" x2="677.90" y2="1297.00" stroke="#000" stroke-width="1.7" />
<line x1="670.60" y1="1287.00" x2="685.20" y2="1287.00" stroke="#000" stroke-width="1.7" />
<line x1="670.60" y1="1297.00" x2="685.20" y2="1297.00" stroke="#000" stroke-width="1.7" />
<polygon points="740.00,1254.90 745.10,1260.00 740.00,1265.10 734.90,1260.00" fill="#00a9e6" stroke="none" stroke-width="0" />
<polygon points="748.00,1250.90 753.10,1256.00 748.00,1261.10 742.90,1256.00" fill="#00a9e6" stroke="none" stroke-width="0" />
<polygon points="755.00,1252.40 760.10,1257.50 755.00,1262.60 749.90,1257.50" fill="#00a9e6" stroke="none" stroke-width="0" />
<line x1="732.70" y1="1258.00" x2="759.90" y2="1258.00" stroke="#000" stroke-width="1.7" />
<line x1="746.30" y1="1255.50" x2="746.30" y2="1260.50" stroke="#000" stroke-width="1.7" />
<line x1="739.00" y1="1255.50" x2="753.60" y2="1255.50" stroke="#000" stroke-width="1.7" />
<line x1="739.00" y1="1260.50" x2="753.60" y2="1260.50" stroke="#000" stroke-width="1.7" />
<text transform="translate(823.18,1112.20) scale(1.115,1)" font-size="40" font-weight="bold">h</text>
<text x="951.53" y="1108.60" font-size="18.69" font-weight="bold" >3-Hydroxykynurenine</text>
<line x1="917.70" y1="1127.70" x2="917.70" y2="1387.05" stroke="#000" stroke-width="2.5" />
<line x1="908.70" y1="1385.80" x2="1175.90" y2="1385.80" stroke="#000" stroke-width="2.5" />
<line x1="912.00" y1="1156.30" x2="917.70" y2="1156.30" stroke="#000" stroke-width="2.3" />
<line x1="909.30" y1="1189.10" x2="917.70" y2="1189.10" stroke="#000" stroke-width="2.3" />
<line x1="912.00" y1="1221.90" x2="917.70" y2="1221.90" stroke="#000" stroke-width="2.3" />
<line x1="912.00" y1="1254.70" x2="917.70" y2="1254.70" stroke="#000" stroke-width="2.3" />
<line x1="909.30" y1="1287.50" x2="917.70" y2="1287.50" stroke="#000" stroke-width="2.3" />
<line x1="912.00" y1="1320.30" x2="917.70" y2="1320.30" stroke="#000" stroke-width="2.3" />
<line x1="912.00" y1="1353.10" x2="917.70" y2="1353.10" stroke="#000" stroke-width="2.3" />
<line x1="944.70" y1="1385.80" x2="944.70" y2="1393.80" stroke="#000" stroke-width="2.5" />
<line x1="1013.00" y1="1385.80" x2="1013.00" y2="1393.80" stroke="#000" stroke-width="2.5" />
<line x1="1081.20" y1="1385.80" x2="1081.20" y2="1393.80" stroke="#000" stroke-width="2.5" />
<line x1="1150.20" y1="1385.80" x2="1150.20" y2="1393.80" stroke="#000" stroke-width="2.5" />
<text x="901.10" y="1195.70" font-size="16.5" text-anchor="end" >2<tspan font-size="12.2" dy="-8.2">20</tspan></text>
<text x="901.10" y="1294.30" font-size="16.5" text-anchor="end" >2<tspan font-size="12.2" dy="-8.2">10</tspan></text>
<text x="901.10" y="1392.30" font-size="16.5" text-anchor="end" >2<tspan font-size="12.2" dy="-8.2">0</tspan></text>
<text transform="translate(839.70,1254.00) rotate(-90)" font-size="17" font-weight="bold" text-anchor="middle" >Arbitrary units (normalized</text>
<text transform="translate(859.70,1254.00) rotate(-90)" font-size="17" font-weight="bold" text-anchor="middle" >to control cell counts)</text>
<text transform="translate(953.70,1410.60) rotate(-45)" font-size="16.6" font-weight="bold" text-anchor="end" >Control</text>
<text transform="translate(1022.00,1410.60) rotate(-45)" font-size="16.6" font-weight="bold" text-anchor="end" >BNA2-OE</text>
<text transform="translate(1090.20,1410.60) rotate(-45)" font-size="16.6" font-weight="bold" text-anchor="end" >BNA2-OE aro1</text>
<text transform="translate(1159.20,1410.60) rotate(-45)" font-size="16.6" font-weight="bold" text-anchor="end" >BNA2-OE bna6</text>
<text x="945.50" y="1377.30" font-size="27" font-weight="bold" text-anchor="middle" stroke="#000" stroke-width="0.5">#</text>
<line x1="1081.20" y1="1160.60" x2="1150.20" y2="1160.60" stroke="#000" stroke-width="2.5" />
<line x1="1081.20" y1="1155.60" x2="1081.20" y2="1165.60" stroke="#000" stroke-width="2.5" />
<line x1="1150.20" y1="1155.60" x2="1150.20" y2="1165.60" stroke="#000" stroke-width="2.5" />
<text x="1116.30" y="1149.00" font-size="15" font-weight="bold" text-anchor="middle" ><tspan font-style="italic">p</tspan> = 0.0096</text>
<line x1="1013.00" y1="1194.40" x2="1081.20" y2="1194.40" stroke="#000" stroke-width="2.5" />
<line x1="1013.00" y1="1189.40" x2="1013.00" y2="1199.40" stroke="#000" stroke-width="2.5" />
<line x1="1081.20" y1="1189.40" x2="1081.20" y2="1199.40" stroke="#000" stroke-width="2.5" />
<text x="1047.30" y="1182.60" font-size="15" font-weight="bold" text-anchor="middle" ><tspan font-style="italic">p</tspan> = 0.0187</text>
<polygon points="1005.00,1216.40 1010.10,1221.50 1005.00,1226.60 999.90,1221.50" fill="#00a9e6" stroke="none" stroke-width="0" />
<polygon points="1013.00,1214.40 1018.10,1219.50 1013.00,1224.60 1007.90,1219.50" fill="#00a9e6" stroke="none" stroke-width="0" />
<polygon points="1021.00,1215.40 1026.10,1220.50 1021.00,1225.60 1015.90,1220.50" fill="#00a9e6" stroke="none" stroke-width="0" />
<line x1="1000.00" y1="1220.40" x2="1027.00" y2="1220.40" stroke="#000" stroke-width="3" />
<polygon points="1090.10,1220.90 1095.20,1226.00 1090.10,1231.10 1085.00,1226.00" fill="#00a9e6" stroke="none" stroke-width="0" />
<polygon points="1073.10,1237.40 1078.20,1242.50 1073.10,1247.60 1068.00,1242.50" fill="#00a9e6" stroke="none" stroke-width="0" />
<polygon points="1090.40,1234.30 1095.50,1239.40 1090.40,1244.50 1085.30,1239.40" fill="#00a9e6" stroke="none" stroke-width="0" />
<polygon points="1081.30,1229.40 1086.40,1234.50 1081.30,1239.60 1076.20,1234.50" fill="#00a9e6" stroke="none" stroke-width="0" />
<line x1="1068.00" y1="1234.30" x2="1095.20" y2="1234.30" stroke="#000" stroke-width="1.7" />
<line x1="1081.60" y1="1231.00" x2="1081.60" y2="1238.80" stroke="#000" stroke-width="1.7" />
<line x1="1074.30" y1="1231.00" x2="1088.90" y2="1231.00" stroke="#000" stroke-width="1.7" />
<line x1="1074.30" y1="1238.80" x2="1088.90" y2="1238.80" stroke="#000" stroke-width="1.7" />
<polygon points="1141.00,1218.40 1146.10,1223.50 1141.00,1228.60 1135.90,1223.50" fill="#00a9e6" stroke="none" stroke-width="0" />
<polygon points="1150.00,1215.90 1155.10,1221.00 1150.00,1226.10 1144.90,1221.00" fill="#00a9e6" stroke="none" stroke-width="0" />
<polygon points="1158.00,1216.40 1163.10,1221.50 1158.00,1226.60 1152.90,1221.50" fill="#00a9e6" stroke="none" stroke-width="0" />
<line x1="1137.00" y1="1222.00" x2="1163.00" y2="1222.00" stroke="#000" stroke-width="3" />
<text transform="translate(-1.82,1547.00) scale(1.135,1)" font-size="40" font-weight="bold">e</text>
<text x="186.01" y="1548.60" font-size="18.62" font-weight="bold" >Tryptophan</text>
<line x1="106.30" y1="1565.30" x2="106.30" y2="1826.65" stroke="#000" stroke-width="2.5" />
<line x1="106.30" y1="1825.40" x2="365.00" y2="1825.40" stroke="#000" stroke-width="2.5" />
<line x1="100.60" y1="1583.30" x2="106.30" y2="1583.30" stroke="#000" stroke-width="2.3" />
<line x1="100.60" y1="1616.15" x2="106.30" y2="1616.15" stroke="#000" stroke-width="2.3" />
<line x1="97.90" y1="1649.00" x2="106.30" y2="1649.00" stroke="#000" stroke-width="2.3" />
<line x1="100.60" y1="1681.85" x2="106.30" y2="1681.85" stroke="#000" stroke-width="2.3" />
<line x1="100.60" y1="1714.70" x2="106.30" y2="1714.70" stroke="#000" stroke-width="2.3" />
<line x1="100.60" y1="1747.55" x2="106.30" y2="1747.55" stroke="#000" stroke-width="2.3" />
<line x1="97.90" y1="1780.40" x2="106.30" y2="1780.40" stroke="#000" stroke-width="2.3" />
<line x1="100.60" y1="1813.25" x2="106.30" y2="1813.25" stroke="#000" stroke-width="2.3" />
<line x1="133.60" y1="1825.40" x2="133.60" y2="1833.40" stroke="#000" stroke-width="2.5" />
<line x1="201.70" y1="1825.40" x2="201.70" y2="1833.40" stroke="#000" stroke-width="2.5" />
<line x1="270.10" y1="1825.40" x2="270.10" y2="1833.40" stroke="#000" stroke-width="2.5" />
<line x1="338.30" y1="1825.40" x2="338.30" y2="1833.40" stroke="#000" stroke-width="2.5" />
<text x="89.70" y="1655.50" font-size="16.5" text-anchor="end" >2<tspan font-size="12.2" dy="-8.2">20</tspan></text>
<text x="89.70" y="1786.90" font-size="16.5" text-anchor="end" >2<tspan font-size="12.2" dy="-8.2">15</tspan></text>
<text transform="translate(28.70,1695.40) rotate(-90)" font-size="17" font-weight="bold" text-anchor="middle" >Arbitrary units (normalized</text>
<text transform="translate(48.70,1695.40) rotate(-90)" font-size="17" font-weight="bold" text-anchor="middle" >to control cell counts)</text>
<text transform="translate(142.60,1850.20) rotate(-45)" font-size="16.6" font-weight="bold" text-anchor="end" >Control</text>
<text transform="translate(210.70,1850.20) rotate(-45)" font-size="16.6" font-weight="bold" text-anchor="end" >BNA2-OE</text>
<text transform="translate(279.10,1850.20) rotate(-45)" font-size="16.6" font-weight="bold" text-anchor="end" >BNA2-OE aro1</text>
<text transform="translate(347.30,1850.20) rotate(-45)" font-size="16.6" font-weight="bold" text-anchor="end" >BNA2-OE bna6</text>
<line x1="133.60" y1="1643.20" x2="201.70" y2="1643.20" stroke="#000" stroke-width="2.5" />
<line x1="133.60" y1="1638.20" x2="133.60" y2="1648.20" stroke="#000" stroke-width="2.5" />
<line x1="201.70" y1="1638.20" x2="201.70" y2="1648.20" stroke="#000" stroke-width="2.5" />
<text x="169.50" y="1631.50" font-size="15" font-weight="bold" text-anchor="middle" ><tspan font-style="italic">p</tspan> = 0.0466</text>
<circle cx="124.90" cy="1694.40" r="5.2" fill="#ec0000"/>
<circle cx="124.90" cy="1707.80" r="5.2" fill="#ec0000"/>
<circle cx="132.90" cy="1700.20" r="5.2" fill="#ec0000"/>
<circle cx="141.90" cy="1701.50" r="5.2" fill="#ec0000"/>
<line x1="119.80" y1="1700.80" x2="147.00" y2="1700.80" stroke="#000" stroke-width="1.7" />
<line x1="133.40" y1="1698.30" x2="133.40" y2="1703.50" stroke="#000" stroke-width="1.7" />
<line x1="126.10" y1="1698.30" x2="140.70" y2="1698.30" stroke="#000" stroke-width="1.7" />
<line x1="126.10" y1="1703.50" x2="140.70" y2="1703.50" stroke="#000" stroke-width="1.7" />
<rect x="188.00" y="1677.80" width="10.00" height="10.00" rx="0" ry="0" fill="#ec0000" stroke="none" stroke-width="0" />
<rect x="188.00" y="1693.00" width="10.00" height="10.00" rx="0" ry="0" fill="#ec0000" stroke="none" stroke-width="0" />
<rect x="204.70" y="1670.00" width="10.00" height="10.00" rx="0" ry="0" fill="#ec0000" stroke="none" stroke-width="0" />
<rect x="204.70" y="1686.20" width="10.00" height="10.00" rx="0" ry="0" fill="#ec0000" stroke="none" stroke-width="0" />
<line x1="188.10" y1="1685.50" x2="215.30" y2="1685.50" stroke="#000" stroke-width="1.7" />
<line x1="201.70" y1="1681.00" x2="201.70" y2="1691.20" stroke="#000" stroke-width="1.7" />
<line x1="194.40" y1="1681.00" x2="209.00" y2="1681.00" stroke="#000" stroke-width="1.7" />
<line x1="194.40" y1="1691.20" x2="209.00" y2="1691.20" stroke="#000" stroke-width="1.7" />
<polygon points="261.70,1667.80 268.08,1679.02 255.32,1679.02" fill="#ec0000" stroke="none" stroke-width="0" />
<polygon points="278.50,1661.10 284.88,1672.32 272.12,1672.32" fill="#ec0000" stroke="none" stroke-width="0" />
<polygon points="270.10,1694.00 276.48,1705.22 263.72,1705.22" fill="#ec0000" stroke="none" stroke-width="0" />
<polygon points="266.00,1677.40 272.38,1688.62 259.62,1688.62" fill="#ec0000" stroke="none" stroke-width="0" />
<line x1="256.50" y1="1679.50" x2="283.70" y2="1679.50" stroke="#000" stroke-width="1.7" />
<line x1="270.10" y1="1673.40" x2="270.10" y2="1687.20" stroke="#000" stroke-width="1.7" />
<line x1="262.80" y1="1673.40" x2="277.40" y2="1673.40" stroke="#000" stroke-width="1.7" />
<line x1="262.80" y1="1687.20" x2="277.40" y2="1687.20" stroke="#000" stroke-width="1.7" />
<polygon points="338.90,1649.20 344.00,1654.30 338.90,1659.40 333.80,1654.30" fill="#ec0000" stroke="none" stroke-width="0" />
<polygon points="330.50,1680.10 335.60,1685.20 330.50,1690.30 325.40,1685.20" fill="#ec0000" stroke="none" stroke-width="0" />
<polygon points="347.30,1687.80 352.40,1692.90 347.30,1698.00 342.20,1692.90" fill="#ec0000" stroke="none" stroke-width="0" />
<polygon points="330.50,1697.90 335.60,1703.00 330.50,1708.10 325.40,1703.00" fill="#ec0000" stroke="none" stroke-width="0" />
<line x1="324.70" y1="1679.50" x2="351.90" y2="1679.50" stroke="#000" stroke-width="1.7" />
<line x1="338.30" y1="1668.40" x2="338.30" y2="1693.60" stroke="#000" stroke-width="1.7" />
<line x1="331.00" y1="1668.40" x2="345.60" y2="1668.40" stroke="#000" stroke-width="1.7" />
<line x1="331.00" y1="1693.60" x2="345.60" y2="1693.60" stroke="#000" stroke-width="1.7" />
<text transform="translate(421.68,1546.50) scale(1.140,1)" font-size="40" font-weight="bold">g</text>
<text x="576.59" y="1548.60" font-size="18.71" font-weight="bold" >Kynurenic acid</text>
<line x1="514.80" y1="1565.40" x2="514.80" y2="1826.65" stroke="#000" stroke-width="2.5" />
<line x1="514.80" y1="1825.40" x2="773.00" y2="1825.40" stroke="#000" stroke-width="2.5" />
<line x1="506.40" y1="1569.40" x2="514.80" y2="1569.40" stroke="#000" stroke-width="2.3" />
<line x1="509.10" y1="1601.33" x2="514.80" y2="1601.33" stroke="#000" stroke-width="2.3" />
<line x1="509.10" y1="1633.26" x2="514.80" y2="1633.26" stroke="#000" stroke-width="2.3" />
<line x1="509.10" y1="1665.19" x2="514.80" y2="1665.19" stroke="#000" stroke-width="2.3" />
<line x1="506.40" y1="1697.12" x2="514.80" y2="1697.12" stroke="#000" stroke-width="2.3" />
<line x1="509.10" y1="1729.05" x2="514.80" y2="1729.05" stroke="#000" stroke-width="2.3" />
<line x1="509.10" y1="1760.98" x2="514.80" y2="1760.98" stroke="#000" stroke-width="2.3" />
<line x1="509.10" y1="1792.91" x2="514.80" y2="1792.91" stroke="#000" stroke-width="2.3" />
<line x1="506.40" y1="1824.84" x2="514.80" y2="1824.84" stroke="#000" stroke-width="2.3" />
<line x1="541.60" y1="1825.40" x2="541.60" y2="1833.40" stroke="#000" stroke-width="2.5" />
<line x1="610.40" y1="1825.40" x2="610.40" y2="1833.40" stroke="#000" stroke-width="2.5" />
<line x1="678.50" y1="1825.40" x2="678.50" y2="1833.40" stroke="#000" stroke-width="2.5" />
<line x1="747.30" y1="1825.40" x2="747.30" y2="1833.40" stroke="#000" stroke-width="2.5" />
<text x="498.20" y="1575.90" font-size="16.5" text-anchor="end" >2<tspan font-size="12.2" dy="-8.2">20</tspan></text>
<text x="498.20" y="1703.70" font-size="16.5" text-anchor="end" >2<tspan font-size="12.2" dy="-8.2">15</tspan></text>
<text x="498.20" y="1831.30" font-size="16.5" text-anchor="end" >2<tspan font-size="12.2" dy="-8.2">10</tspan></text>
<text transform="translate(436.80,1695.40) rotate(-90)" font-size="17" font-weight="bold" text-anchor="middle" >Arbitrary units (normalized</text>
<text transform="translate(456.80,1695.40) rotate(-90)" font-size="17" font-weight="bold" text-anchor="middle" >to control cell counts)</text>
<text transform="translate(550.60,1850.20) rotate(-45)" font-size="16.6" font-weight="bold" text-anchor="end" >Control</text>
<text transform="translate(619.40,1850.20) rotate(-45)" font-size="16.6" font-weight="bold" text-anchor="end" >BNA2-OE</text>
<text transform="translate(687.50,1850.20) rotate(-45)" font-size="16.6" font-weight="bold" text-anchor="end" >BNA2-OE aro1</text>
<text transform="translate(756.30,1850.20) rotate(-45)" font-size="16.6" font-weight="bold" text-anchor="end" >BNA2-OE bna6</text>
<text x="542.40" y="1816.60" font-size="27" font-weight="bold" font-style="italic" text-anchor="middle" stroke="#000" stroke-width="0.5">#</text>
<text x="679.30" y="1816.60" font-size="27" font-weight="bold" font-style="italic" text-anchor="middle" stroke="#000" stroke-width="0.5">#</text>
<rect x="596.30" y="1659.40" width="10.00" height="10.00" rx="0" ry="0" fill="#00a9e6" stroke="none" stroke-width="0" />
<rect x="596.30" y="1676.00" width="10.00" height="10.00" rx="0" ry="0" fill="#00a9e6" stroke="none" stroke-width="0" />
<rect x="613.00" y="1668.80" width="10.00" height="10.00" rx="0" ry="0" fill="#00a9e6" stroke="none" stroke-width="0" />
<line x1="596.80" y1="1672.80" x2="624.00" y2="1672.80" stroke="#000" stroke-width="1.7" />
<line x1="610.40" y1="1667.00" x2="610.40" y2="1677.80" stroke="#000" stroke-width="1.7" />
<line x1="603.10" y1="1667.00" x2="617.70" y2="1667.00" stroke="#000" stroke-width="1.7" />
<line x1="603.10" y1="1677.80" x2="617.70" y2="1677.80" stroke="#000" stroke-width="1.7" />
<polygon points="747.30,1655.20 752.40,1660.30 747.30,1665.40 742.20,1660.30" fill="#00a9e6" stroke="none" stroke-width="0" />
<polygon points="747.30,1670.90 752.40,1676.00 747.30,1681.10 742.20,1676.00" fill="#00a9e6" stroke="none" stroke-width="0" />
<polygon points="747.30,1684.40 752.40,1689.50 747.30,1694.60 742.20,1689.50" fill="#00a9e6" stroke="none" stroke-width="0" />
<line x1="733.70" y1="1673.80" x2="760.90" y2="1673.80" stroke="#000" stroke-width="1.7" />
<line x1="747.30" y1="1666.00" x2="747.30" y2="1683.00" stroke="#000" stroke-width="1.7" />
<line x1="740.00" y1="1666.00" x2="754.60" y2="1666.00" stroke="#000" stroke-width="1.7" />
<line x1="740.00" y1="1683.00" x2="754.60" y2="1683.00" stroke="#000" stroke-width="1.7" />
<text transform="translate(824.00,1545.50) scale(1.071,1)" font-size="40" font-weight="bold">i</text>
<text x="1046.60" y="1548.50" font-size="18.7" font-weight="bold" text-anchor="middle" >NAD<tspan font-size="12.5" dy="-8">+</tspan></text>
<line x1="917.70" y1="1565.20" x2="917.70" y2="1826.95" stroke="#000" stroke-width="2.5" />
<line x1="917.70" y1="1825.70" x2="1176.00" y2="1825.70" stroke="#000" stroke-width="2.5" />
<line x1="909.30" y1="1574.10" x2="917.70" y2="1574.10" stroke="#000" stroke-width="2.3" />
<line x1="912.00" y1="1593.75" x2="917.70" y2="1593.75" stroke="#000" stroke-width="2.3" />
<line x1="912.00" y1="1613.40" x2="917.70" y2="1613.40" stroke="#000" stroke-width="2.3" />
<line x1="912.00" y1="1633.05" x2="917.70" y2="1633.05" stroke="#000" stroke-width="2.3" />
<line x1="909.30" y1="1652.70" x2="917.70" y2="1652.70" stroke="#000" stroke-width="2.3" />
<line x1="912.00" y1="1672.35" x2="917.70" y2="1672.35" stroke="#000" stroke-width="2.3" />
<line x1="912.00" y1="1692.00" x2="917.70" y2="1692.00" stroke="#000" stroke-width="2.3" />
<line x1="912.00" y1="1711.65" x2="917.70" y2="1711.65" stroke="#000" stroke-width="2.3" />
<line x1="909.30" y1="1731.30" x2="917.70" y2="1731.30" stroke="#000" stroke-width="2.3" />
<line x1="912.00" y1="1750.95" x2="917.70" y2="1750.95" stroke="#000" stroke-width="2.3" />
<line x1="912.00" y1="1770.60" x2="917.70" y2="1770.60" stroke="#000" stroke-width="2.3" />
<line x1="912.00" y1="1790.25" x2="917.70" y2="1790.25" stroke="#000" stroke-width="2.3" />
<line x1="909.30" y1="1809.90" x2="917.70" y2="1809.90" stroke="#000" stroke-width="2.3" />
<line x1="944.70" y1="1825.70" x2="944.70" y2="1833.70" stroke="#000" stroke-width="2.5" />
<line x1="1013.00" y1="1825.70" x2="1013.00" y2="1833.70" stroke="#000" stroke-width="2.5" />
<line x1="1081.20" y1="1825.70" x2="1081.20" y2="1833.70" stroke="#000" stroke-width="2.5" />
<line x1="1150.20" y1="1825.70" x2="1150.20" y2="1833.70" stroke="#000" stroke-width="2.5" />
<text x="901.10" y="1580.60" font-size="16.5" text-anchor="end" >2<tspan font-size="12.2" dy="-8.2">22</tspan></text>
<text x="901.10" y="1659.50" font-size="16.5" text-anchor="end" >2<tspan font-size="12.2" dy="-8.2">20</tspan></text>
<text x="901.10" y="1737.80" font-size="16.5" text-anchor="end" >2<tspan font-size="12.2" dy="-8.2">18</tspan></text>
<text x="901.10" y="1816.40" font-size="16.5" text-anchor="end" >2<tspan font-size="12.2" dy="-8.2">16</tspan></text>
<text transform="translate(839.70,1695.40) rotate(-90)" font-size="17" font-weight="bold" text-anchor="middle" >Arbitrary units (normalized</text>
<text transform="translate(859.70,1695.40) rotate(-90)" font-size="17" font-weight="bold" text-anchor="middle" >to control cell counts)</text>
<text transform="translate(953.70,1850.50) rotate(-45)" font-size="16.6" font-weight="bold" text-anchor="end" >Control</text>
<text transform="translate(1022.00,1850.50) rotate(-45)" font-size="16.6" font-weight="bold" text-anchor="end" >BNA2-OE</text>
<text transform="translate(1090.20,1850.50) rotate(-45)" font-size="16.6" font-weight="bold" text-anchor="end" >BNA2-OE aro1</text>
<text transform="translate(1159.20,1850.50) rotate(-45)" font-size="16.6" font-weight="bold" text-anchor="end" >BNA2-OE bna6</text>
<line x1="944.70" y1="1614.60" x2="1081.20" y2="1614.60" stroke="#000" stroke-width="2.5" />
<line x1="944.70" y1="1609.60" x2="944.70" y2="1619.60" stroke="#000" stroke-width="2.5" />
<line x1="1081.20" y1="1609.60" x2="1081.20" y2="1619.60" stroke="#000" stroke-width="2.5" />
<text x="1013.70" y="1605.40" font-size="15" font-weight="bold" text-anchor="middle" ><tspan font-style="italic">p</tspan> = 0.0105</text>
<circle cx="944.70" cy="1653.00" r="5.2" fill="#00a9e6"/>
<circle cx="934.80" cy="1663.90" r="5.2" fill="#00a9e6"/>
<circle cx="953.90" cy="1664.60" r="5.2" fill="#00a9e6"/>
<circle cx="944.70" cy="1684.30" r="5.2" fill="#00a9e6"/>
<line x1="931.10" y1="1664.60" x2="958.30" y2="1664.60" stroke="#000" stroke-width="1.7" />
<line x1="944.70" y1="1659.60" x2="944.70" y2="1671.10" stroke="#000" stroke-width="1.7" />
<line x1="937.40" y1="1659.60" x2="952.00" y2="1659.60" stroke="#000" stroke-width="1.7" />
<line x1="937.40" y1="1671.10" x2="952.00" y2="1671.10" stroke="#000" stroke-width="1.7" />
<rect x="998.90" y="1641.50" width="10.00" height="10.00" rx="0" ry="0" fill="#00a9e6" stroke="none" stroke-width="0" />
<rect x="1018.00" y="1645.70" width="10.00" height="10.00" rx="0" ry="0" fill="#00a9e6" stroke="none" stroke-width="0" />
<rect x="1008.00" y="1651.30" width="10.00" height="10.00" rx="0" ry="0" fill="#00a9e6" stroke="none" stroke-width="0" />
<rect x="1008.00" y="1666.10" width="10.00" height="10.00" rx="0" ry="0" fill="#00a9e6" stroke="none" stroke-width="0" />
<line x1="999.40" y1="1654.70" x2="1026.60" y2="1654.70" stroke="#000" stroke-width="1.7" />
<line x1="1013.00" y1="1650.70" x2="1013.00" y2="1659.60" stroke="#000" stroke-width="1.7" />
<line x1="1005.70" y1="1650.70" x2="1020.30" y2="1650.70" stroke="#000" stroke-width="1.7" />
<line x1="1005.70" y1="1659.60" x2="1020.30" y2="1659.60" stroke="#000" stroke-width="1.7" />
<polygon points="1081.20,1630.00 1087.58,1641.22 1074.82,1641.22" fill="#00a9e6" stroke="none" stroke-width="0" />
<polygon points="1072.30,1650.40 1078.68,1661.62 1065.92,1661.62" fill="#00a9e6" stroke="none" stroke-width="0" />
<polygon points="1091.00,1649.10 1097.38,1660.32 1084.62,1660.32" fill="#00a9e6" stroke="none" stroke-width="0" />
<polygon points="1081.20,1641.40 1087.58,1652.62 1074.82,1652.62" fill="#00a9e6" stroke="none" stroke-width="0" />
<line x1="1067.60" y1="1648.10" x2="1094.80" y2="1648.10" stroke="#000" stroke-width="1.7" />
<line x1="1081.20" y1="1643.80" x2="1081.20" y2="1652.40" stroke="#000" stroke-width="1.7" />
<line x1="1073.90" y1="1643.80" x2="1088.50" y2="1643.80" stroke="#000" stroke-width="1.7" />
<line x1="1073.90" y1="1652.40" x2="1088.50" y2="1652.40" stroke="#000" stroke-width="1.7" />
<polygon points="1142.00,1645.60 1147.10,1650.70 1142.00,1655.80 1136.90,1650.70" fill="#00a9e6" stroke="none" stroke-width="0" />
<polygon points="1160.00,1646.90 1165.10,1652.00 1160.00,1657.10 1154.90,1652.00" fill="#00a9e6" stroke="none" stroke-width="0" />
<polygon points="1150.20,1681.50 1155.30,1686.60 1150.20,1691.70 1145.10,1686.60" fill="#00a9e6" stroke="none" stroke-width="0" />
<polygon points="1150.20,1645.90 1155.30,1651.00 1150.20,1656.10 1145.10,1651.00" fill="#00a9e6" stroke="none" stroke-width="0" />
<line x1="1136.60" y1="1658.60" x2="1163.80" y2="1658.60" stroke="#000" stroke-width="1.7" />
<line x1="1150.20" y1="1651.40" x2="1150.20" y2="1666.20" stroke="#000" stroke-width="1.7" />
<line x1="1142.90" y1="1651.40" x2="1157.50" y2="1651.40" stroke="#000" stroke-width="1.7" />
<line x1="1142.90" y1="1666.20" x2="1157.50" y2="1666.20" stroke="#000" stroke-width="1.7" />
<defs>
<linearGradient id="g2" x1="0" x2="1" y1="0" y2="0"><stop offset="0" stop-color="#bfdcab"/><stop offset="0.5" stop-color="#dcebd2"/><stop offset="1" stop-color="#f6f9f3"/></linearGradient>
<linearGradient id="g3" x1="0" x2="1" y1="0" y2="0"><stop offset="0" stop-color="#f8faf6"/><stop offset="0.42" stop-color="#f3f8ef"/><stop offset="0.72" stop-color="#c3dfb0"/><stop offset="1" stop-color="#bedca9"/></linearGradient>
<linearGradient id="g4" x1="0" x2="1" y1="0" y2="0"><stop offset="0" stop-color="#bfdcab"/><stop offset="0.35" stop-color="#c9e2b8"/><stop offset="1" stop-color="#f6f9f3"/></linearGradient>
</defs>
<text transform="translate(0.77,1974.00) scale(0.957,1)" font-size="40" font-weight="bold">j</text>
<text transform="translate(20.60,2078.60) rotate(-90)" font-size="23" font-weight="bold" >Young</text>
<text transform="translate(20.60,2429.40) rotate(-90)" font-size="23" font-weight="bold" >Aged</text>
<path d="M 33.7 1978 L 33.7 2534" stroke="#000" stroke-width="2.5" fill="none" stroke-dasharray="10 8"/>
<path d="M 14.9 2114.4 L 1178 2114.4" stroke="#000" stroke-width="2.5" fill="none" stroke-dasharray="9.8 7.94"/>
<path d="M 33.7 2256.4 L 1182 2256.4" stroke="#000" stroke-width="1.7" fill="none" stroke-dasharray="6.1 4.99"/>
<path d="M 33.7 2402 L 1182 2402" stroke="#222" stroke-width="1.6" fill="none" stroke-dasharray="6.1 4.99"/>
<polygon points="40.90,1987.00 67.50,1987.00 67.50,1978.20 85.20,1996.10 67.50,2014.00 67.50,2004.60 40.90,2004.60" fill="#000" stroke="none" stroke-width="0" />
<text x="45.20" y="2000.80" font-size="12" font-weight="bold" fill="#fff" >FLUX</text>
<text x="43.50" y="2051.00" font-size="16" font-weight="bold" >Control</text>
<text x="43.50" y="2071.30" font-size="16" font-weight="bold" >(WT)</text>
<text x="43.50" y="2191.00" font-size="16" font-weight="bold" >Control</text>
<text x="43.50" y="2211.00" font-size="16" font-weight="bold" >(WT)</text>
<text x="43.50" y="2345.10" font-size="16.5" font-weight="bold" >BNA2-OE</text>
<text x="43.50" y="2460.40" font-size="16.5" font-weight="bold" >BNA2-OE +</text>
<text x="43.50" y="2480.80" font-size="16.5" font-weight="bold" >aro1</text>
<text x="43.50" y="2500.90" font-size="16.5" font-weight="bold" >deletion</text>
<text x="219.50" y="1994.00" font-size="14.4" font-weight="bold" text-anchor="middle" >Lipid</text>
<text x="219.50" y="2010.60" font-size="14.4" font-weight="bold" text-anchor="middle" >droplets</text>
<path d="M 211.90 2029.30 L 216.55 2034.06 A 6.5 6.5 0 1 1 207.25 2034.06 Z" fill="#f7f77c" stroke="#8f8f70" stroke-width="0.9"/>
<path d="M 235.30 2036.30 L 240.09 2040.80 A 7 7 0 1 1 230.51 2040.80 Z" fill="#f7f77c" stroke="#8f8f70" stroke-width="0.9"/>
<path d="M 211.70 2055.00 L 216.29 2059.32 A 6.7 6.7 0 1 1 207.11 2059.32 Z" fill="#f7f77c" stroke="#8f8f70" stroke-width="0.9"/>
<path d="M 211.10 2142.40 L 221.14 2152.04 A 14.5 14.5 0 1 1 201.06 2152.04 Z" fill="#f7f77c" stroke="#8f8f70" stroke-width="0.9"/>
<path d="M 244.30 2160.00 L 254.65 2170.40 A 14.6 14.6 0 1 1 233.95 2170.40 Z" fill="#f7f77c" stroke="#8f8f70" stroke-width="0.9"/>
<path d="M 194.70 2182.20 L 204.06 2189.68 A 15 15 0 1 1 185.34 2189.68 Z" fill="#f7f77c" stroke="#8f8f70" stroke-width="0.9"/>
<path d="M 228.50 2192.80 L 238.42 2201.99 A 14.6 14.6 0 1 1 218.58 2201.99 Z" fill="#f7f77c" stroke="#8f8f70" stroke-width="0.9"/>
<path d="M 204.40 2309.90 L 212.19 2316.28 A 12.3 12.3 0 1 1 196.61 2316.28 Z" fill="#f7f77c" stroke="#8f8f70" stroke-width="0.9"/>
<path d="M 237.10 2325.80 L 244.89 2332.18 A 12.3 12.3 0 1 1 229.31 2332.18 Z" fill="#f7f77c" stroke="#8f8f70" stroke-width="0.9"/>
<path d="M 212.00 2344.40 L 218.27 2350.14 A 9.3 9.3 0 1 1 205.73 2350.14 Z" fill="#f7f77c" stroke="#8f8f70" stroke-width="0.9"/>
<path d="M 210.20 2425.10 L 220.69 2435.95 A 14.6 14.6 0 1 1 199.71 2435.95 Z" fill="#f7f77c" stroke="#8f8f70" stroke-width="0.9"/>
<path d="M 243.10 2443.10 L 253.29 2452.76 A 14.8 14.8 0 1 1 232.91 2452.76 Z" fill="#f7f77c" stroke="#8f8f70" stroke-width="0.9"/>
<path d="M 193.40 2464.90 L 204.11 2476.62 A 14.5 14.5 0 1 1 182.69 2476.62 Z" fill="#f7f77c" stroke="#8f8f70" stroke-width="0.9"/>
<path d="M 227.80 2475.50 L 238.10 2485.75 A 14.6 14.6 0 1 1 217.50 2485.75 Z" fill="#f7f77c" stroke="#8f8f70" stroke-width="0.9"/>
<polygon points="153.46,2013.51 172.06,2023.93 174.50,2019.57 179.70,2032.80 165.70,2035.27 168.15,2030.91 149.54,2020.49" fill="#000" stroke="none" stroke-width="0"  stroke-linejoin="miter"/>
<polygon points="146.02,2082.22 164.46,2071.75 161.99,2067.41 176.00,2069.80 170.88,2083.06 168.41,2078.71 149.98,2089.18" fill="#000" stroke="none" stroke-width="0"  stroke-linejoin="miter"/>
<polygon points="147.30,2152.30 165.71,2162.02 168.51,2156.72 174.40,2173.40 157.30,2177.94 160.10,2172.63 141.70,2162.90" fill="#000" stroke="none" stroke-width="0"  stroke-linejoin="miter"/>
<polygon points="143.02,2224.71 160.19,2213.99 157.02,2208.90 174.40,2212.20 169.73,2229.26 166.55,2224.17 149.38,2234.89" fill="#000" stroke="none" stroke-width="0"  stroke-linejoin="miter"/>
<polygon points="147.67,2293.62 163.94,2302.70 167.35,2296.59 173.00,2315.20 154.20,2320.17 157.61,2314.06 141.33,2304.98" fill="#000" stroke="none" stroke-width="0"  stroke-linejoin="miter"/>
<polygon points="142.63,2367.87 157.73,2357.95 153.89,2352.10 173.00,2355.70 168.71,2374.67 164.87,2368.82 149.77,2378.73" fill="#000" stroke="none" stroke-width="0"  stroke-linejoin="miter"/>
<polygon points="147.65,2417.02 163.91,2426.03 167.30,2419.90 173.00,2438.50 154.21,2443.52 157.60,2437.40 141.35,2428.38" fill="#000" stroke="none" stroke-width="0"  stroke-linejoin="miter"/>
<polygon points="142.63,2508.87 157.73,2498.95 153.89,2493.10 173.00,2496.70 168.71,2515.67 164.87,2509.82 149.77,2519.73" fill="#000" stroke="none" stroke-width="0"  stroke-linejoin="miter"/>
<rect x="293.40" y="1980.80" width="115.60" height="127.10" rx="18.5" ry="18.5" fill="#c0dcaa" stroke="#00b050" stroke-width="3.5" />
<rect x="293.40" y="2127.30" width="115.60" height="116.70" rx="18.5" ry="18.5" fill="url(#g2)" stroke="#00b050" stroke-width="3.5" />
<rect x="293.40" y="2268.00" width="115.60" height="121.00" rx="18.5" ry="18.5" fill="url(#g3)" stroke="#00b050" stroke-width="3.5" />
<rect x="293.40" y="2416.50" width="115.60" height="115.00" rx="18.5" ry="18.5" fill="url(#g4)" stroke="#00b050" stroke-width="3.5" />
<polygon points="299.70,2055.50 265.80,2055.50 265.80,2059.90 256.80,2050.80 265.80,2041.70 265.80,2046.10 299.70,2046.10" fill="#000" stroke="none" stroke-width="0"  stroke-linejoin="miter"/>
<polygon points="301.40,2200.85 272.90,2200.85 272.90,2208.55 257.40,2193.10 272.90,2177.65 272.90,2185.35 301.40,2185.35" fill="#000" stroke="none" stroke-width="0"  stroke-linejoin="miter"/>
<polygon points="301.40,2344.80 263.20,2344.80 263.20,2347.30 257.10,2341.80 263.20,2336.30 263.20,2338.80 301.40,2338.80" fill="#000" stroke="none" stroke-width="0"  stroke-linejoin="miter"/>
<polygon points="301.10,2484.85 271.50,2484.85 271.50,2492.75 256.40,2477.50 271.50,2462.25 271.50,2470.15 301.10,2470.15" fill="#000" stroke="none" stroke-width="0"  stroke-linejoin="miter"/>
<text x="351.50" y="1996.90" font-size="14.6" font-weight="bold" text-anchor="middle" >Glycolysis,</text>
<text x="351.50" y="2014.30" font-size="14.6" font-weight="bold" text-anchor="middle" >pentose</text>
<text x="351.50" y="2031.90" font-size="14.6" font-weight="bold" text-anchor="middle" >phosphate,</text>
<text x="351.50" y="2049.00" font-size="14.6" font-weight="bold" text-anchor="middle" >carbon flux?</text>
<rect x="422.60" y="1980.60" width="289.30" height="126.80" rx="20" ry="20" fill="#fff" stroke="#ff0000" stroke-width="3.5" />
<rect x="422.30" y="2126.70" width="289.50" height="116.80" rx="20" ry="20" fill="#fff" stroke="#ff0000" stroke-width="3.5" />
<rect x="421.40" y="2269.70" width="290.50" height="120.50" rx="20" ry="20" fill="#ffd9d9" stroke="#ff0000" stroke-width="3.5" />
<rect x="420.40" y="2415.90" width="291.30" height="115.30" rx="22" ry="22" fill="#fff" stroke="#ff0000" stroke-width="3.5" stroke-dasharray="15 11.5"/>
<text x="453.80" y="1997.80" font-size="14.6" font-weight="bold" >Shikimate, aromatic amino acids</text>
<rect x="454.20" y="1999.40" width="9.40" height="1.40" rx="0" ry="0" fill="#000" stroke="none" stroke-width="0" />
<rect x="530.80" y="1999.40" width="8.20" height="1.40" rx="0" ry="0" fill="#000" stroke="none" stroke-width="0" />
<text x="428.80" y="2038.60" font-size="12.5" font-style="italic" >ARO1</text>
<text x="428.80" y="2180.40" font-size="12.5" font-style="italic" >ARO1</text>
<text x="428.80" y="2323.90" font-size="12.5" font-style="italic" >ARO1</text>
<text x="428.80" y="2470.50" font-size="12.5" font-style="italic" >ARO1</text>
<polygon points="401.40,2046.10 454.60,2046.10 454.60,2041.70 464.00,2050.50 454.60,2059.30 454.60,2054.90 401.40,2054.90" fill="#000" stroke="none" stroke-width="0"  stroke-linejoin="miter"/>
<polygon points="486.30,2046.10 512.20,2046.10 512.20,2041.70 521.60,2050.50 512.20,2059.30 512.20,2054.90 486.30,2054.90" fill="#000" stroke="none" stroke-width="0"  stroke-linejoin="miter"/>
<polygon points="558.60,2046.10 567.23,2046.10 567.23,2041.70 575.20,2050.50 567.23,2059.30 567.23,2054.90 558.60,2054.90" fill="#000" stroke="none" stroke-width="0"  stroke-linejoin="miter"/>
<polygon points="577.30,2046.10 585.62,2046.10 585.62,2041.70 593.30,2050.50 585.62,2059.30 585.62,2054.90 577.30,2054.90" fill="#000" stroke="none" stroke-width="0"  stroke-linejoin="miter"/>
<polygon points="619.90,2046.10 645.80,2046.10 645.80,2041.70 655.20,2050.50 645.80,2059.30 645.80,2054.90 619.90,2054.90" fill="#000" stroke="none" stroke-width="0"  stroke-linejoin="miter"/>
<polygon points="680.90,2046.10 689.53,2046.10 689.53,2041.70 697.50,2050.50 689.53,2059.30 689.53,2054.90 680.90,2054.90" fill="#000" stroke="none" stroke-width="0"  stroke-linejoin="miter"/>
<polygon points="699.00,2046.10 707.63,2046.10 707.63,2041.70 715.60,2050.50 707.63,2059.30 707.63,2054.90 699.00,2054.90" fill="#000" stroke="none" stroke-width="0"  stroke-linejoin="miter"/>
<polygon points="401.40,2187.80 454.60,2187.80 454.60,2183.40 464.00,2192.20 454.60,2201.00 454.60,2196.60 401.40,2196.60" fill="#000" stroke="none" stroke-width="0"  stroke-linejoin="miter"/>
<polygon points="487.60,2187.80 512.90,2187.80 512.90,2183.40 522.30,2192.20 512.90,2201.00 512.90,2196.60 487.60,2196.60" fill="#000" stroke="none" stroke-width="0"  stroke-linejoin="miter"/>
<polygon points="560.00,2187.80 568.68,2187.80 568.68,2183.40 576.70,2192.20 568.68,2201.00 568.68,2196.60 560.00,2196.60" fill="#000" stroke="none" stroke-width="0"  stroke-linejoin="miter"/>
<polygon points="578.20,2187.80 586.83,2187.80 586.83,2183.40 594.80,2192.20 586.83,2201.00 586.83,2196.60 578.20,2196.60" fill="#000" stroke="none" stroke-width="0"  stroke-linejoin="miter"/>
<polygon points="621.00,2187.80 647.30,2187.80 647.30,2183.40 656.70,2192.20 647.30,2201.00 647.30,2196.60 621.00,2196.60" fill="#000" stroke="none" stroke-width="0"  stroke-linejoin="miter"/>
<polygon points="681.80,2187.80 690.43,2187.80 690.43,2183.40 698.40,2192.20 690.43,2201.00 690.43,2196.60 681.80,2196.60" fill="#000" stroke="none" stroke-width="0"  stroke-linejoin="miter"/>
<polygon points="700.50,2187.80 709.13,2187.80 709.13,2183.40 717.10,2192.20 709.13,2201.00 709.13,2196.60 700.50,2196.60" fill="#000" stroke="none" stroke-width="0"  stroke-linejoin="miter"/>
<polygon points="401.40,2335.10 446.90,2335.10 446.90,2327.85 461.90,2342.60 446.90,2357.35 446.90,2350.10 401.40,2350.10" fill="#000" stroke="none" stroke-width="0"  stroke-linejoin="miter"/>
<polygon points="489.10,2335.00 509.50,2335.00 509.50,2327.50 524.40,2342.60 509.50,2357.70 509.50,2350.20 489.10,2350.20" fill="#000" stroke="none" stroke-width="0"  stroke-linejoin="miter"/>
<polygon points="561.10,2335.00 569.26,2335.00 569.26,2327.50 576.80,2342.60 569.26,2357.70 569.26,2350.20 561.10,2350.20" fill="#000" stroke="none" stroke-width="0"  stroke-linejoin="miter"/>
<polygon points="580.00,2335.00 588.01,2335.00 588.01,2327.50 595.40,2342.60 588.01,2357.70 588.01,2350.20 580.00,2350.20" fill="#000" stroke="none" stroke-width="0"  stroke-linejoin="miter"/>
<polygon points="623.50,2335.00 644.20,2335.00 644.20,2327.50 659.10,2342.60 644.20,2357.70 644.20,2350.20 623.50,2350.20" fill="#000" stroke="none" stroke-width="0"  stroke-linejoin="miter"/>
<polygon points="680.50,2335.00 688.66,2335.00 688.66,2327.50 696.20,2342.60 688.66,2357.70 688.66,2350.20 680.50,2350.20" fill="#000" stroke="none" stroke-width="0"  stroke-linejoin="miter"/>
<polygon points="699.10,2335.00 707.26,2335.00 707.26,2327.50 714.80,2342.60 707.26,2357.70 707.26,2350.20 699.10,2350.20" fill="#000" stroke="none" stroke-width="0"  stroke-linejoin="miter"/>
<polygon points="401.40,2479.25 455.90,2479.25 455.90,2474.50 466.40,2484.50 455.90,2494.50 455.90,2489.75 401.40,2489.75" fill="#fff" stroke="#000" stroke-width="1.4"  stroke-linejoin="miter"/>
<polygon points="489.00,2479.25 514.40,2479.25 514.40,2474.50 524.40,2484.50 514.40,2494.50 514.40,2489.75 489.00,2489.75" fill="#fff" stroke="#000" stroke-width="1.4"  stroke-linejoin="miter"/>
<polygon points="561.60,2479.25 570.23,2479.25 570.23,2474.50 578.20,2484.50 570.23,2494.50 570.23,2489.75 561.60,2489.75" fill="#fff" stroke="#000" stroke-width="1.4"  stroke-linejoin="miter"/>
<polygon points="580.30,2479.25 588.98,2479.25 588.98,2474.50 597.00,2484.50 588.98,2494.50 588.98,2489.75 580.30,2489.75" fill="#fff" stroke="#000" stroke-width="1.4"  stroke-linejoin="miter"/>
<polygon points="622.60,2479.25 648.50,2479.25 648.50,2474.50 658.50,2484.50 648.50,2494.50 648.50,2489.75 622.60,2489.75" fill="#fff" stroke="#000" stroke-width="1.4"  stroke-linejoin="miter"/>
<polygon points="683.30,2479.25 691.78,2479.25 691.78,2474.50 699.60,2484.50 691.78,2494.50 691.78,2489.75 683.30,2489.75" fill="#fff" stroke="#000" stroke-width="1.4"  stroke-linejoin="miter"/>
<polygon points="701.40,2479.25 710.34,2479.25 710.34,2474.50 718.60,2484.50 710.34,2494.50 710.34,2489.75 701.40,2489.75" fill="#fff" stroke="#000" stroke-width="1.4"  stroke-linejoin="miter"/>
<text x="447.30" y="2479.80" font-size="41.5" font-weight="bold" text-anchor="middle" fill="#ff0000" >X</text>
<text transform="translate(496.50,2035.50) rotate(-45)" font-size="11.5" font-weight="bold" text-anchor="end" >Shikimate</text>
<text transform="translate(581.10,2015.80) rotate(-45)" font-size="11.5" font-weight="bold" text-anchor="end" >Phosphoshikimate</text>
<text transform="translate(634.00,2030.30) rotate(-45)" font-size="11.5" font-weight="bold" text-anchor="end" >Chorismate</text>
<text transform="translate(696.50,2027.90) rotate(-45)" font-size="11.5" font-weight="bold" text-anchor="end" >Anthranilate</text>
<text x="734.30" y="2006.80" font-size="11.6" font-weight="bold" text-anchor="middle" >Media</text>
<polygon points="737.85,2009.80 737.85,2035.10 741.20,2035.10 734.60,2042.20 728.00,2035.10 731.35,2035.10 731.35,2009.80" fill="#000" stroke="none" stroke-width="0"  stroke-linejoin="miter"/>
<text x="735.00" y="2058.20" font-size="15.2" font-weight="bold" text-anchor="middle" >Trp</text>
<text x="734.30" y="2148.70" font-size="11.6" font-weight="bold" text-anchor="middle" >Media</text>
<polygon points="737.85,2153.20 737.85,2177.80 741.20,2177.80 734.60,2184.90 728.00,2177.80 731.35,2177.80 731.35,2153.20" fill="#000" stroke="none" stroke-width="0"  stroke-linejoin="miter"/>
<text x="735.00" y="2200.00" font-size="15.2" font-weight="bold" text-anchor="middle" >Trp</text>
<text x="734.30" y="2293.70" font-size="11.6" font-weight="bold" text-anchor="middle" >Media</text>
<polygon points="740.25,2298.10 740.25,2319.50 746.80,2319.50 733.60,2332.00 720.40,2319.50 726.95,2319.50 726.95,2298.10" fill="#000" stroke="none" stroke-width="0"  stroke-linejoin="miter"/>
<text x="735.00" y="2348.00" font-size="15.2" font-weight="bold" text-anchor="middle" >Trp</text>
<text x="734.30" y="2438.20" font-size="11.6" font-weight="bold" text-anchor="middle" >Media</text>
<polygon points="740.25,2442.60 740.25,2463.50 746.80,2463.50 733.60,2476.00 720.40,2463.50 726.95,2463.50 726.95,2442.60" fill="#000" stroke="none" stroke-width="0"  stroke-linejoin="miter"/>
<text x="735.00" y="2491.00" font-size="15.2" font-weight="bold" text-anchor="middle" >Trp</text>
<rect x="756.80" y="1980.80" width="374.60" height="125.60" rx="21" ry="21" fill="#fff" stroke="#00aeef" stroke-width="3.5" />
<rect x="756.80" y="2126.80" width="374.50" height="116.60" rx="21" ry="21" fill="#fff" stroke="#00aeef" stroke-width="3.5" />
<rect x="756.80" y="2270.00" width="374.40" height="120.20" rx="21" ry="21" fill="#d7eefc" stroke="#00aeef" stroke-width="3.5" />
<rect x="756.80" y="2416.00" width="374.40" height="115.00" rx="21" ry="21" fill="#d7eefc" stroke="#00aeef" stroke-width="3.5" />
<text x="768.40" y="1997.90" font-size="14.4" font-weight="bold" >BNA pathway</text>
<rect x="767.90" y="1998.80" width="20.90" height="1.30" rx="0" ry="0" fill="#000" stroke="none" stroke-width="0" />
<polygon points="751.40,2047.10 792.10,2047.10 792.10,2042.80 801.30,2051.40 792.10,2060.00 792.10,2055.70 751.40,2055.70" fill="#000" stroke="none" stroke-width="0"  stroke-linejoin="miter"/>
<polygon points="810.90,2047.80 837.00,2047.80 837.00,2043.50 846.30,2052.10 837.00,2060.70 837.00,2056.40 810.90,2056.40" fill="#000" stroke="none" stroke-width="0"  stroke-linejoin="miter"/>
<polygon points="872.40,2048.20 898.00,2048.20 898.00,2043.90 907.20,2052.50 898.00,2061.10 898.00,2056.80 872.40,2056.80" fill="#000" stroke="none" stroke-width="0"  stroke-linejoin="miter"/>
<polygon points="927.70,2048.20 952.60,2048.20 952.60,2043.90 961.80,2052.50 952.60,2061.10 952.60,2056.80 927.70,2056.80" fill="#000" stroke="none" stroke-width="0"  stroke-linejoin="miter"/>
<polygon points="982.70,2048.20 1000.00,2048.20 1000.00,2043.90 1009.20,2052.50 1000.00,2061.10 1000.00,2056.80 982.70,2056.80" fill="#000" stroke="none" stroke-width="0"  stroke-linejoin="miter"/>
<polygon points="1011.10,2048.20 1028.50,2048.20 1028.50,2043.90 1037.70,2052.50 1028.50,2061.10 1028.50,2056.80 1011.10,2056.80" fill="#000" stroke="none" stroke-width="0"  stroke-linejoin="miter"/>
<polygon points="1062.30,2048.20 1089.20,2048.20 1089.20,2043.90 1098.40,2052.50 1089.20,2061.10 1089.20,2056.80 1062.30,2056.80" fill="#000" stroke="none" stroke-width="0"  stroke-linejoin="miter"/>
<polygon points="1117.30,2048.20 1126.56,2048.20 1126.56,2043.90 1135.10,2052.50 1126.56,2061.10 1126.56,2056.80 1117.30,2056.80" fill="#000" stroke="none" stroke-width="0"  stroke-linejoin="miter"/>
<polygon points="875.31,2024.73 892.65,2008.31 889.55,2005.04 903.00,2004.70 901.93,2018.11 898.83,2014.84 881.49,2031.27" fill="#000" stroke="none" stroke-width="0"  stroke-linejoin="miter"/>
<polygon points="930.34,2030.70 949.61,2012.81 946.55,2009.51 960.00,2009.30 958.80,2022.70 955.73,2019.40 936.46,2037.30" fill="#000" stroke="none" stroke-width="0"  stroke-linejoin="miter"/>
<polygon points="860.79,2064.82 878.33,2082.44 881.52,2079.26 882.20,2092.70 868.77,2091.97 871.95,2088.79 854.41,2071.18" fill="#000" stroke="none" stroke-width="0"  stroke-linejoin="miter"/>
<text x="762.80" y="2037.70" font-size="11.9" font-style="italic" >BNA2</text>
<text x="812.00" y="2037.70" font-size="11.9" font-style="italic" >BNA7</text>
<text x="921.30" y="2073.00" font-size="11.9" font-style="italic" >BNA5</text>
<text x="973.20" y="2073.00" font-size="11.9" font-style="italic" >BNA1</text>
<text x="1057.80" y="2073.00" font-size="11.9" font-style="italic" >BNA6</text>
<text x="832.90" y="2097.30" font-size="12.7" >BNA3</text>
<text x="885.20" y="2001.70" font-size="11.8" font-weight="bold" >Anthranilate</text>
<text x="959.20" y="2009.30" font-size="11.9" font-weight="bold" >Xanthurenate</text>
<text x="882.20" y="2100.30" font-size="11.7" font-weight="bold" >Kynurenic acid</text>
<text transform="translate(878.90,2034.00) rotate(-45)" font-size="11.2" font-weight="bold" text-anchor="end" >Kynurenine</text>
<text transform="translate(930.10,2045.50) rotate(-45)" font-size="11.2" font-weight="bold" text-anchor="end" >3-HK</text>
<text transform="translate(985.10,2046.00) rotate(-45)" font-size="11.2" font-weight="bold" text-anchor="end" >3-HA</text>
<text transform="translate(1076.10,2032.30) rotate(-45)" font-size="11.2" font-weight="bold" text-anchor="end" >Quinolate</text>
<text transform="translate(1119.70,2043.60) rotate(-45)" font-size="11.2" font-weight="bold" text-anchor="end" >NAM</text>
<text x="1138.20" y="2039.60" font-size="13.2" font-weight="bold" >NAD<tspan font-size="9" dy="-5.5">+</tspan></text>
<text x="1138.20" y="2056.70" font-size="13.2" font-weight="bold" >salvage</text>
<text x="1138.20" y="2073.00" font-size="13.2" font-weight="bold" >pathway</text>
<text x="762.80" y="2180.40" font-size="13.2" font-style="italic" >BNA2</text>
<polygon points="753.30,2188.90 792.60,2188.90 792.60,2184.40 802.60,2193.40 792.60,2202.40 792.60,2197.90 753.30,2197.90" fill="#000" stroke="none" stroke-width="0"  stroke-linejoin="miter"/>
<polygon points="812.00,2188.90 845.70,2188.90 845.70,2184.40 855.70,2193.40 845.70,2202.40 845.70,2197.90 812.00,2197.90" fill="#000" stroke="none" stroke-width="0"  stroke-linejoin="miter"/>
<polygon points="872.70,2188.90 898.00,2188.90 898.00,2184.40 908.00,2193.40 898.00,2202.40 898.00,2197.90 872.70,2197.90" fill="#000" stroke="none" stroke-width="0"  stroke-linejoin="miter"/>
<polygon points="933.40,2188.90 958.70,2188.90 958.70,2184.40 968.70,2193.40 958.70,2202.40 958.70,2197.90 933.40,2197.90" fill="#000" stroke="none" stroke-width="0"  stroke-linejoin="miter"/>
<polygon points="982.00,2188.90 999.20,2188.90 999.20,2184.40 1009.20,2193.40 999.20,2202.40 999.20,2197.90 982.00,2197.90" fill="#000" stroke="none" stroke-width="0"  stroke-linejoin="miter"/>
<polygon points="1010.40,2188.90 1027.70,2188.90 1027.70,2184.40 1037.70,2193.40 1027.70,2202.40 1027.70,2197.90 1010.40,2197.90" fill="#000" stroke="none" stroke-width="0"  stroke-linejoin="miter"/>
<polygon points="1062.30,2188.90 1087.60,2188.90 1087.60,2184.40 1097.60,2193.40 1087.60,2202.40 1087.60,2197.90 1062.30,2197.90" fill="#000" stroke="none" stroke-width="0"  stroke-linejoin="miter"/>
<polygon points="1118.00,2188.90 1126.53,2188.90 1126.53,2184.40 1134.40,2193.40 1126.53,2202.40 1126.53,2197.90 1118.00,2197.90" fill="#000" stroke="none" stroke-width="0"  stroke-linejoin="miter"/>
<polygon points="874.24,2169.30 893.41,2151.51 890.35,2148.21 903.80,2148.00 902.59,2161.40 899.53,2158.10 880.36,2175.90" fill="#000" stroke="none" stroke-width="0"  stroke-linejoin="miter"/>
<polygon points="930.29,2175.05 949.66,2156.55 946.55,2153.30 960.00,2152.90 958.98,2166.32 955.88,2163.06 936.51,2181.55" fill="#000" stroke="none" stroke-width="0"  stroke-linejoin="miter"/>
<polygon points="858.83,2207.27 877.05,2224.91 880.18,2221.68 881.10,2235.10 867.66,2234.61 870.79,2231.38 852.57,2213.73" fill="#000" stroke="none" stroke-width="0"  stroke-linejoin="miter"/>
<text x="763.50" y="2320.60" font-size="16.7" font-weight="bold" font-style="italic" >BNA2-OE</text>
<polygon points="753.20,2333.20 782.30,2333.20 782.30,2324.00 800.90,2342.70 782.30,2361.40 782.30,2352.20 753.20,2352.20" fill="#000" stroke="none" stroke-width="0"  stroke-linejoin="miter"/>
<polygon points="811.70,2332.80 837.50,2332.80 837.50,2323.75 855.50,2342.40 837.50,2361.05 837.50,2352.00 811.70,2352.00" fill="#000" stroke="none" stroke-width="0"  stroke-linejoin="miter"/>
<polygon points="873.20,2332.80 889.80,2332.80 889.80,2323.25 907.00,2342.10 889.80,2360.95 889.80,2351.40 873.20,2351.40" fill="#000" stroke="none" stroke-width="0"  stroke-linejoin="miter"/>
<polygon points="860.55,2316.17 873.20,2303.47 866.29,2296.59 892.10,2297.60 893.21,2323.41 886.30,2316.53 873.65,2329.23" fill="#000" stroke="none" stroke-width="0"  stroke-linejoin="miter"/>
<polygon points="868.06,2350.64 880.50,2363.07 886.87,2356.71 886.30,2381.60 861.41,2382.17 867.77,2375.80 855.34,2363.36" fill="#000" stroke="none" stroke-width="0"  stroke-linejoin="miter"/>
<rect x="915.90" y="2270.90" width="129.80" height="38.70" rx="8" ry="8" fill="#8fd0ee" stroke="#00aeef" stroke-width="3" stroke-dasharray="10 6"/>
<text x="934.20" y="2293.70" font-size="18.65" font-weight="bold" fill="#1010b8" >Longevity?</text>
<polygon points="919.05,2318.27 931.72,2305.55 924.81,2298.67 950.20,2300.10 951.74,2325.48 944.83,2318.60 932.15,2331.33" fill="#000" stroke="none" stroke-width="0"  stroke-linejoin="miter"/>
<polygon points="932.40,2336.30 954.80,2336.30 954.80,2330.25 966.40,2342.10 954.80,2353.95 954.80,2347.90 932.40,2347.90" fill="#000" stroke="none" stroke-width="0"  stroke-linejoin="miter"/>
<polygon points="982.00,2337.70 998.50,2337.70 998.50,2333.20 1008.50,2342.20 998.50,2351.20 998.50,2346.70 982.00,2346.70" fill="#000" stroke="none" stroke-width="0"  stroke-linejoin="miter"/>
<polygon points="1010.40,2337.70 1027.70,2337.70 1027.70,2333.20 1037.70,2342.20 1027.70,2351.20 1027.70,2346.70 1010.40,2346.70" fill="#000" stroke="none" stroke-width="0"  stroke-linejoin="miter"/>
<polygon points="1062.30,2337.70 1087.60,2337.70 1087.60,2333.20 1097.60,2342.20 1087.60,2351.20 1087.60,2346.70 1062.30,2346.70" fill="#000" stroke="none" stroke-width="0"  stroke-linejoin="miter"/>
<polygon points="1118.00,2337.70 1126.53,2337.70 1126.53,2333.20 1134.40,2342.20 1126.53,2351.20 1126.53,2346.70 1118.00,2346.70" fill="#000" stroke="none" stroke-width="0"  stroke-linejoin="miter"/>
<text x="763.50" y="2467.80" font-size="16.7" font-weight="bold" font-style="italic" >BNA2-OE</text>
<polygon points="749.00,2479.40 783.30,2479.40 783.30,2473.40 797.40,2485.90 783.30,2498.40 783.30,2492.40 749.00,2492.40" fill="#000" stroke="none" stroke-width="0"  stroke-linejoin="miter"/>
<polygon points="811.50,2479.15 841.70,2479.15 841.70,2472.40 855.80,2485.90 841.70,2499.40 841.70,2492.65 811.50,2492.65" fill="#000" stroke="none" stroke-width="0"  stroke-linejoin="miter"/>
<polygon points="872.90,2479.15 908.10,2479.15 908.10,2472.40 922.20,2485.90 908.10,2499.40 908.10,2492.65 872.90,2492.65" fill="#000" stroke="none" stroke-width="0"  stroke-linejoin="miter"/>
<polygon points="860.36,2467.45 881.73,2449.12 878.63,2445.51 891.00,2446.10 889.71,2458.41 886.61,2454.81 865.24,2473.15" fill="#fff" stroke="#000" stroke-width="1.4"  stroke-linejoin="miter"/>
<polygon points="866.02,2498.92 885.18,2517.63 888.50,2514.23 889.00,2526.60 876.62,2526.39 879.94,2522.99 860.78,2504.28" fill="#fff" stroke="#000" stroke-width="1.4"  stroke-linejoin="miter"/>
<rect x="914.00" y="2418.50" width="130.90" height="37.60" rx="8" ry="8" fill="#8fd0ee" stroke="#00aeef" stroke-width="3" stroke-dasharray="10 6"/>
<text x="934.20" y="2439.70" font-size="18.65" font-weight="bold" fill="#1010b8" >Longevity?</text>
<polygon points="921.84,2465.05 935.35,2451.26 929.63,2445.66 950.50,2446.50 951.78,2467.35 946.07,2461.75 932.56,2475.55" fill="#000" stroke="none" stroke-width="0"  stroke-linejoin="miter"/>
<polygon points="933.30,2480.60 955.40,2480.60 955.40,2474.60 966.50,2485.60 955.40,2496.60 955.40,2490.60 933.30,2490.60" fill="#000" stroke="none" stroke-width="0"  stroke-linejoin="miter"/>
<polygon points="982.00,2480.80 998.50,2480.80 998.50,2476.30 1008.50,2485.30 998.50,2494.30 998.50,2489.80 982.00,2489.80" fill="#000" stroke="none" stroke-width="0"  stroke-linejoin="miter"/>
<polygon points="1010.40,2480.80 1027.70,2480.80 1027.70,2476.30 1037.70,2485.30 1027.70,2494.30 1027.70,2489.80 1010.40,2489.80" fill="#000" stroke="none" stroke-width="0"  stroke-linejoin="miter"/>
<polygon points="1062.30,2480.80 1087.60,2480.80 1087.60,2476.30 1097.60,2485.30 1087.60,2494.30 1087.60,2489.80 1062.30,2489.80" fill="#000" stroke="none" stroke-width="0"  stroke-linejoin="miter"/>
<polygon points="1118.00,2480.80 1126.53,2480.80 1126.53,2476.30 1134.40,2485.30 1126.53,2494.30 1126.53,2489.80 1118.00,2489.80" fill="#000" stroke="none" stroke-width="0"  stroke-linejoin="miter"/>
</svg></body></html>
